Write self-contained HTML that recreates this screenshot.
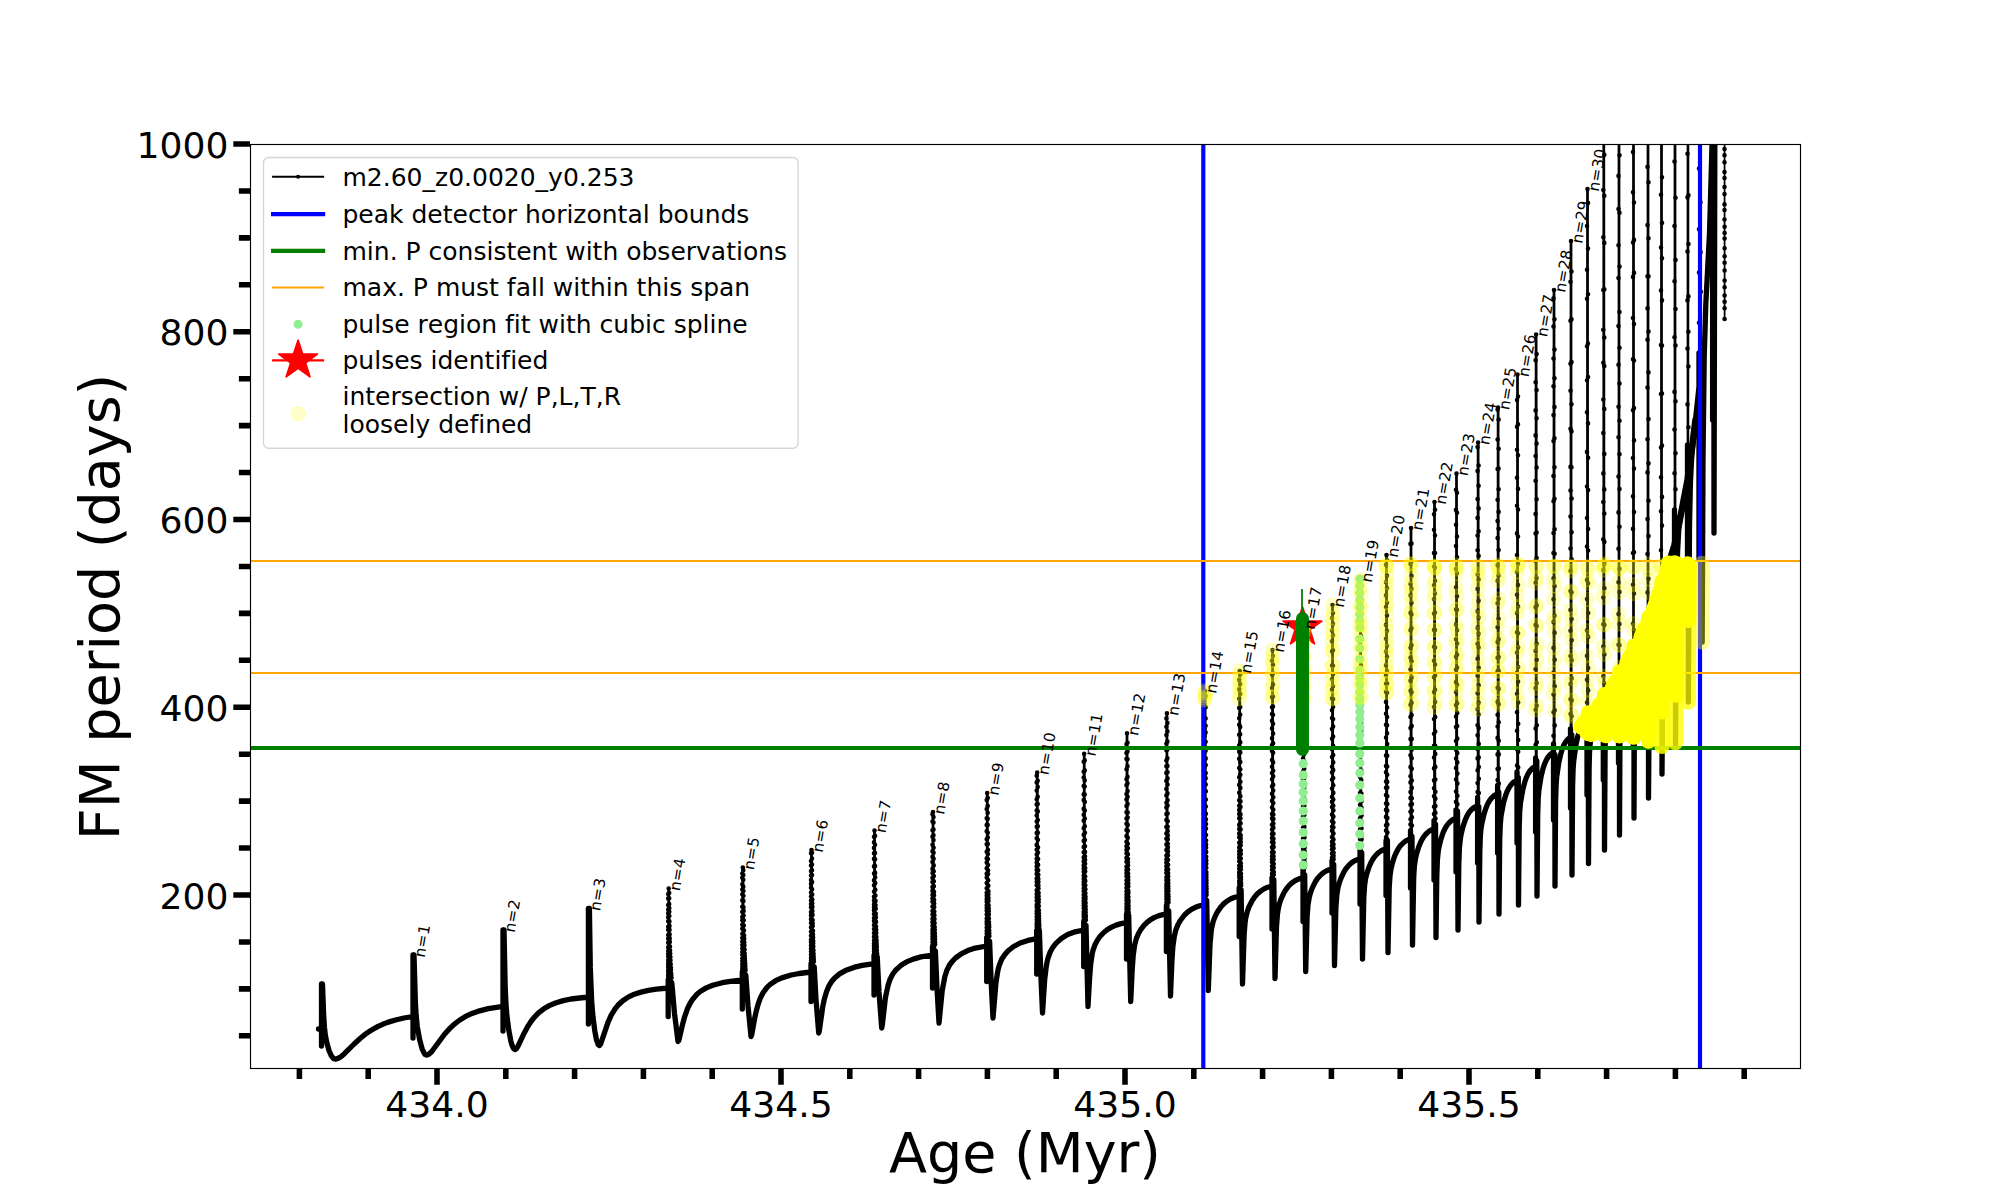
<!DOCTYPE html>
<html lang="en"><head><meta charset="utf-8"><title>FM period vs Age</title>
<style>html,body{margin:0;padding:0;background:#fff;overflow:hidden}svg{display:block}text{font-variant-ligatures:none;font-kerning:none}</style></head>
<body>
<svg width="2000" height="1200" viewBox="0 0 2000 1200">
<rect width="2000" height="1200" fill="#fff"/>
<defs><clipPath id="ax"><rect x="250" y="144" width="1550" height="924"/></clipPath></defs>
<g clip-path="url(#ax)">
<g fill="none" stroke="#000" stroke-linejoin="round" stroke-linecap="round">
<path stroke-width="1.75" d="M318.5 1029L321.5 1029L321.5 1046L321.5 984L322.5 984L323.7 1016.5L324.5 1027.7L325.3 1035L327 1043.5L329.2 1051L331.4 1055.9L332.4 1057.3L333.6 1058.6L335 1059L336.8 1058.8L338.8 1058L340.9 1056.7L344.4 1053.7L354.1 1044L360.4 1038.2L365.7 1033.9L371.6 1030L378.1 1026.4L382.7 1024.3L387.6 1022.4L395.5 1020L403.9 1018L413 1016.5L413 1038L413 955L414 955L415.2 998.3L416 1013.3L416.8 1022.9L418.5 1034.3L420.7 1044.4L422.9 1050.9L423.9 1052.8L425.1 1054.4L426.5 1055L427.4 1054.9L428.8 1054.2L430.4 1052.9L433.3 1049.5L440.6 1039.4L446 1032.5L450.7 1027.5L456 1022.8L461.8 1018.7L468.2 1015.1L472.8 1013.1L480.3 1010.6L491.1 1008.1L503 1006.4L503 1031L503 930L504 930L505 981.8L505.7 999.7L506.7 1013.5L508.2 1026.4L509.9 1036.8L511.8 1044.6L512.7 1046.8L513.8 1048.8L515.3 1049.5L516.2 1048.9L517 1048L518.5 1045.2L524 1033.4L527.2 1027.4L531 1021.5L535.3 1016.1L540.2 1011.5L543.8 1008.8L549.7 1005.4L556.2 1002.7L563.3 1000.6L571 999L579.4 997.9L588.4 997L588.4 1024L588.4 908.5L589.4 908.5L590.3 967.9L591 988.4L591.9 1004.2L593.4 1020.8L595.6 1035.6L596.5 1039.9L597.7 1043.6L598.3 1044.7L599.5 1045.5L600.4 1044.6L601.1 1043L605.3 1029.7L608 1022.3L611.2 1015.2L613.7 1010.9L617.9 1005.3L621.1 1002.1L626.3 998.2L632.2 995.1L638.7 992.7L648.4 990.4L656.4 989.2L668.2 988L668.2 1016.5L668.2 888.5L669.2 888.5L669.6 933.7L670.3 954.4L671.2 972.6L672.3 989.2L673.9 1007.7L675.8 1025L678.1 1041.5L678.5 1041L679.1 1039.4L682.2 1025.9L684.6 1016.8L687.6 1008.4L690 1003.5L692.7 999.2L694.1 997.3L697.2 994L700.6 991.2L706.3 987.9L712.7 985.3L722.3 982.7L730.4 981.3L742.3 980L742.3 1009L742.3 867.5L743.3 867.5L743.7 917.4L744.2 940.3L745 960.3L746 978.7L747.4 999.2L749.4 1021.4L751.1 1036.5L751.8 1034.3L754.8 1017.6L756.4 1010.5L758.2 1004L760.3 998.2L762.7 993.3L764.1 991.1L767 987.4L770.2 984.4L775.6 980.7L781.8 977.9L786.3 976.3L791.2 975L799.1 973.5L811 972L811 1001.5L811 850L812 850L812.3 904L813.5 950.5L815.6 992.6L817 1013.3L818.7 1033L819.3 1031L821.5 1014.7L822.8 1006.3L824.5 998.4L826.5 991.7L828.8 986.2L831.4 981.8L834.4 978.2L836 976.6L839.5 973.9L845.4 970.6L849.7 968.8L854.5 967.2L862.3 965.4L874 963.7L874 995L874 830.5L875 830.5L875.4 894.5L875.9 920.4L876.8 947.8L878.8 988.2L881.7 1028L882.4 1024.4L884.1 1007.5L885.4 997.6L887.1 988.9L888.1 985.2L890.2 978.9L892.8 974L895.6 970.2L897.2 968.5L900.7 965.6L906.5 961.9L913.3 959.1L920.9 956.9L926.5 955.8L932.5 955L932.5 988L932.5 812L933.5 812L933.8 880.4L935.1 941.9L936.8 984.5L939 1023L939.4 1020.6L941 1002.1L942.2 990.7L943.8 980.9L944.8 976.8L946.9 970.2L949.4 965.2L952.3 961.3L955.5 958L961.2 953.8L967.7 950.6L975.2 948.1L980.7 946.9L986.7 946L986.7 981.5L986.7 793L987.7 793L988 865.9L989.3 931.5L990.9 977L993 1018L995.9 983.3L997.5 972.6L998.4 968.3L999.5 964.7L1001.8 959L1004.7 954.7L1007.9 951L1009.7 949.4L1013.6 946.5L1017.9 944L1020.2 943L1027.9 940.4L1036.7 938.7L1036.7 974L1036.7 772.5L1037.7 772.5L1038 850.5L1039.1 920.5L1040.6 969.1L1042.5 1013L1044.7 979.4L1046.2 967L1047 962.2L1048 958.2L1050.2 952L1052.8 947.3L1055.9 943.4L1059.4 940L1061.3 938.5L1065.5 935.8L1067.7 934.6L1075.2 931.8L1083.7 930L1083.7 966.5L1083.7 753.7L1084.7 753.7L1084.9 828.3L1085.4 892.6L1086.5 950.6L1088 1006.5L1090.1 970.6L1090.7 964L1092.2 953.8L1093.1 950L1095.2 944.2L1097.7 939.7L1100.5 935.8L1103.8 932.5L1105.6 930.9L1109.5 928.3L1111.6 927.1L1118.5 924.3L1126.5 922.5L1126.5 959L1126.5 733.3L1127.5 733.3L1127.7 812.5L1128.2 880.6L1129.2 942.2L1130.7 1001.5L1132.2 969.9L1133.2 955.4L1133.9 949.8L1134.6 945.2L1136.4 938.4L1138.5 933.5L1140.9 929.3L1145.3 924L1148.7 920.9L1150.6 919.6L1152.6 918.4L1156.8 916.4L1161.4 914.9L1166.4 913.7L1166.4 951.5L1166.4 713.3L1167.4 713.3L1167.5 796.8L1168.1 868.6L1169.1 933.5L1170.5 996L1171.9 961.3L1172.9 946.4L1173.5 940.8L1174.3 936.3L1175.9 929.7L1177.9 924.7L1180.3 920.5L1184.5 915L1187.7 912L1189.5 910.6L1191.4 909.4L1195.4 907.3L1199.8 905.7L1204.6 904.5L1204.6 944L1204.6 691L1205.6 691L1205.7 779.4L1206.2 855.5L1207 924.3L1208.3 990.5L1209.6 952.9L1210.5 937.8L1211.1 932.2L1211.7 927.8L1213.2 921.4L1215 916.6L1217.2 912.3L1221 906.7L1223.9 903.6L1225.5 902.2L1227.2 901L1230.9 898.8L1234.8 897.2L1239.2 896L1239.2 936.5L1239.2 671L1240.2 671L1240.3 763.4L1240.7 843L1241.4 914.8L1242.5 984L1243.7 943.3L1244.1 934.9L1245.1 922.4L1245.7 918.1L1247.2 911.8L1248.9 907L1251 902.7L1253.3 898.8L1256 895.3L1258.9 892.4L1260.6 891.1L1262.3 889.9L1265.9 888L1272 886L1272 929L1272 650L1273 650L1273.4 830.5L1274.1 905.9L1275 978.5L1276.1 934.9L1277 919.4L1277.5 913.9L1278.7 906.4L1280.2 901.1L1283 894.5L1285.3 890.5L1287.8 887L1290.6 884L1292.1 882.7L1293.7 881.5L1297.2 879.5L1303 877.5L1303 921.5L1303 627L1304 627L1304.4 816.3L1305.7 971.5L1306.8 925.5L1307.6 910L1308 904.8L1309.2 897.5L1310.6 892.4L1313.2 885.8L1315.3 881.8L1317.7 878.2L1321.8 873.9L1323.3 872.7L1326.6 870.8L1332 868.7L1332 913L1332 605L1333 605L1333.3 803.1L1334.5 965.5L1335.2 926.8L1336.3 900.4L1336.8 895.2L1337.9 888.1L1339.3 882.9L1340.9 878.4L1342.8 874.1L1345 870.2L1348.7 865.4L1350.1 864L1353.1 861.7L1356.4 860L1360 858.7L1360 904L1360 580L1361 580L1361.3 788.2L1362.5 959L1363.2 917.4L1364.2 890.6L1364.6 885.5L1365.6 878.5L1366.9 873.4L1368.4 868.7L1370.1 864.4L1372.1 860.4L1375.6 855.5L1379.7 851.8L1382.7 850L1386 848.7L1386 895.5L1386 555L1387 555L1387.2 773.4L1388 952.5L1388.7 908L1389.6 880.8L1390 875.8L1391 868.9L1392.2 863.8L1393.6 859.1L1395.3 854.7L1397.2 850.6L1400.5 845.6L1404.4 841.9L1407.3 840L1410.5 838.7L1410.5 888L1410.5 528L1411.5 528L1411.7 757.1L1412.5 945L1413.1 898L1414 870.7L1414.4 865.8L1415.4 859.1L1416.5 854L1417.9 849.2L1419.5 844.8L1421.3 840.7L1424.5 835.7L1428.2 831.9L1431 830.1L1434 828.7L1434 880L1434 502L1435 502L1435.2 741.3L1436 937.5L1436.6 887.6L1437.4 860.1L1437.8 855.3L1438.7 848.7L1441 838.8L1442.5 834.3L1444.2 830.2L1447.1 825.1L1450.6 821.2L1453.2 819.4L1456 818L1456 872L1456 473.5L1457 473.5L1457.2 724.3L1458 930L1458.6 876.5L1459.4 848.3L1459.7 843.5L1460.6 837L1462.9 826.9L1464.4 822.3L1466 818L1468.9 812.7L1472.3 808.8L1474.8 806.9L1477.6 805.5L1477.6 863L1477.6 442.5L1478.6 442.5L1479 922L1479.5 865.2L1480 843.4L1480.3 836.7L1481 828.4L1482 822.8L1483.7 815.3L1485 810.6L1486.6 806.3L1489.4 800.9L1492.6 796.9L1495 794.9L1497.6 793.5L1497.6 853L1497.6 407.5L1498.6 407.5L1499 914L1499.5 853.5L1500 831.2L1500.3 824.5L1501 816.2L1501.9 810.5L1503.5 802.7L1504.9 797.8L1506.4 793.3L1509 787.7L1512.1 783.5L1514.5 781.5L1517 780L1517 843L1517 374.5L1518 374.5L1518.1 665.9L1518.5 905L1519 841.1L1519.4 818.4L1520.4 803.5L1521.2 797.6L1522.8 789.5L1525.5 779.8L1528 774L1531 769.6L1533.2 767.6L1535.6 766L1535.6 832L1535.6 334.5L1536.6 334.5L1537 896L1537.5 828.6L1537.9 805.6L1538.8 790.7L1539.6 784.7L1541.1 776.4L1543.8 766.3L1546.2 760.3L1549 755.8L1551.2 753.6L1553.5 752L1553.5 820L1553.5 290L1554.5 290L1554.6 617.4L1555 886L1555.4 815.1L1555.8 791.8L1556.7 776.9L1558.9 762.2L1561.4 751.8L1563.6 745.5L1566.3 740.9L1568.3 738.7L1570.5 737L1570.5 808L1570.5 241L1571.5 241L1571.6 589.3L1572 875L1572.4 799.8L1572.8 776.1L1573.7 761.1L1574.8 751.8L1576.3 742.9L1578.8 732.6L1581.2 726.6L1583.9 722.3L1587 719.5L1587 795L1587 189L1588 189L1588.1 559.6L1588.5 863.6L1588.9 783.9L1589.3 759.5L1590.1 744.4L1591.3 734.7L1592.7 725.5L1595.3 714.7L1597.6 708.4L1600.2 704L1603.3 701L1603.3 780L1603.3 130L1604.3 130L1604.5 850L1604.9 764.7L1605.3 739.6L1606 724.2L1607.1 714.1L1608.5 704.3L1610.9 692.9L1613.1 686.3L1615.6 681.6L1618.5 678.5L1618.5 763L1618.5 70L1619.5 70L1619.5 835L1619.9 743.3L1620.2 717.3L1621 701.4L1622 690.7L1623.4 680.4L1625.7 668.3L1627.8 661.3L1630.2 656.3L1633 653L1633 744L1633 10L1634 10L1634 818L1634.3 741.5L1634.7 692.6L1635.5 676.2L1636.5 665L1637.9 654L1640.2 641.2L1642.3 633.8L1644.7 628.5L1647.5 625L1647.5 722L1647.5 -60L1648.5 -60L1648.5 798L1649 719L1649.7 667.2L1650.5 635.8L1651.1 625.6L1651.7 618.7L1652.6 613.5L1653.9 608.5L1661 589L1661 697L1661 -130L1662 -130L1662 774L1662.6 685.6L1663.2 630.5L1664.1 597.7L1664.6 587L1665.3 579.6L1666.2 573.9L1667.5 568.2L1674.5 545L1674.5 665L1674.5 -200L1675.5 -200L1675.5 744L1676 650.5L1676.7 587.3L1677.6 551.2L1678.1 538.9L1678.8 529.2L1680.4 517.6L1687.5 480L1687.5 620L1687.5 -280L1688.5 -280L1688.3 702L1688.8 597.5L1689.5 525.2L1690.4 483L1691.8 454.6L1693 441.4L1695.6 419.5L1699 386.8L1699 560L1699 -360L1700 -360L1700.1 -64.2L1700.5 190.5L1701.2 420.6L1702.2 642L1703 460.6L1704.2 358.1L1704.9 330.4L1705.8 304.1L1709.5 233.5L1712 145.4L1712.6 110L1712.6 420L1712.6 -450L1713.6 -450L1714 533L1714.9 114.4L1716.2 -172.6L1718 -430.6L1723.4 -1063.3L1723.4 -3000L1723.4 -550L1724.4 -550L1724.6 319"/>
<path stroke-width="5.3" d="M318.5 1029L321.5 1029L321.5 1046L321.5 984M322.5 984L323.7 1016.5L324.5 1027.7L325.3 1035L327 1043.5L329.2 1051L331.4 1055.9L333.6 1058.6L335 1059L336.8 1058.8L338.8 1058L340.9 1056.7L344.4 1053.7L354.1 1044L360.4 1038.2L365.7 1033.9L371.6 1030L378.1 1026.4L382.7 1024.3L387.6 1022.4L395.5 1020L403.9 1018L413 1016.5L413 1038L413 955M414 955L415.4 1002.8L416.2 1016.1L417.3 1026.6L419.6 1039.5L422.1 1048.8L424.4 1053.6L425.1 1054.4L426.5 1055L427.4 1054.9L429.3 1053.9L431.8 1051.5L444.5 1034.3L449.1 1029.2L454.1 1024.3L459.8 1020L466 1016.2L470.5 1014.1L477.7 1011.4L488.3 1008.6L503 1006.4L503 1031L503 930M504 930L505.2 987.1L505.9 1003L506.9 1015.6L508.7 1029.5L510.8 1040.8L511.8 1044.6L513.2 1047.9L513.8 1048.8L515.3 1049.5L516.5 1048.5L517.9 1046.3L524 1033.4L527.2 1027.4L531 1021.5L533.8 1017.9L538.5 1012.9L543.8 1008.8L549.7 1005.4L556.2 1002.7L563.3 1000.6L571 999L588.4 997L588.4 1024L588.4 908.5M589.4 908.5L590.3 967.9L591.7 1001.6L593 1017.1L594.8 1030.9L596.5 1039.9L598.3 1044.7L599.5 1045.5L600.7 1043.9L608 1022.3L611.2 1015.2L615.1 1008.9L617.9 1005.3L622.8 1000.7L628.2 997.1L634.3 994.2L641 992.1L648.4 990.4L656.4 989.2L668.2 988L668.2 1016.5L668.2 980M671.8 982.7L674.5 1013.6L678 1041.5L678.5 1041L679.1 1039.4L682.2 1025.9L684.6 1016.8L687.6 1008.4L690 1003.5L692.7 999.2L697.2 994L700.6 991.2L706.3 987.9L712.7 985.3L722.3 982.7L730.4 981.3L742.3 980L742.3 1009L742.3 972M745.8 975.1L748 1005.7L751 1036.5L751.8 1034.3L754.8 1017.6L756.4 1010.5L758.2 1004L760.3 998.2L762.7 993.3L767 987.4L770.2 984.4L775.6 980.7L781.8 977.9L791.2 975L799.1 973.5L811 972L811 1001.5L811 964M814.2 966.6L816 999.6L818.7 1033L819.3 1031L822.8 1006.3L824.5 998.4L826.5 991.7L828.8 986.2L831.4 981.8L834.4 978.2L839.5 973.9L845.4 970.6L854.5 967.2L862.3 965.4L874 963.7L874 995L874 955.7M877.2 956.3L879 992L881.7 1028L882.4 1024.4L885.4 997.6L888.1 985.2L890.2 978.9L892.8 974L895.6 970.2L900.7 965.6L906.5 961.9L913.3 959.1L920.9 956.9L932.5 955L932.5 988L932.5 947M935.4 950.8L937 988.5L939 1023L942.2 990.7L944.8 976.8L946.9 970.2L949.4 965.2L952.3 961.3L955.5 958L961.2 953.8L967.7 950.6L975.2 948.1L986.7 946L986.7 981.5L986.7 938M989.6 941.1L991.1 981.2L993 1018L995.9 983.3L997.5 972.6L998.4 968.3L999.5 964.7L1001.8 959L1004.7 954.7L1007.9 951L1013.6 946.5L1020.2 943L1027.9 940.4L1036.7 938.7L1036.7 974L1036.7 930.7M1039.4 930.8L1040.8 973.7L1042.5 1013L1044.7 979.4L1046.2 967L1047 962.2L1048 958.2L1050.2 952L1052.8 947.3L1055.9 943.4L1061.3 938.5L1067.7 934.6L1075.2 931.8L1083.7 930L1083.7 966.5L1083.7 922M1086 925.3L1088 1006.5L1089.6 978L1090.7 964L1092.2 953.8L1093.1 950L1095.2 944.2L1097.7 939.7L1100.5 935.8L1103.8 932.5L1107.5 929.5L1111.6 927.1L1116.1 925.1L1121.1 923.6L1126.5 922.5L1126.5 959L1126.5 914.5M1128.7 915.4L1130.7 1001.5L1132.2 969.9L1133.2 955.4L1134.6 945.2L1136.4 938.4L1138.5 933.5L1140.9 929.3L1143.8 925.6L1147 922.4L1150.6 919.6L1154.6 917.4L1159 915.6L1166.4 913.7L1166.4 951.5L1166.4 905.7M1168.7 911L1170.5 996L1171.9 961.3L1172.9 946.4L1174.3 936.3L1175.9 929.7L1177.9 924.7L1180.3 920.5L1184.5 915L1187.7 912L1191.4 909.4L1195.4 907.3L1199.8 905.7L1204.6 904.5L1204.6 944L1204.6 896.5M1206.7 900.5L1208.3 990.5L1210 944.7L1211.1 932.2L1211.7 927.8L1213.2 921.4L1215 916.6L1217.2 912.3L1221 906.7L1223.9 903.6L1227.2 901L1230.9 898.8L1234.8 897.2L1239.2 896L1239.2 936.5L1239.2 888M1241.1 889.9L1242.5 984L1244.1 934.9L1245.1 922.4L1245.7 918.1L1247.2 911.8L1248.9 907L1252.1 900.7L1254.6 897L1257.4 893.8L1260.6 891.1L1264 888.9L1267.8 887.2L1272 886L1272 929L1272 878M1273.8 879.7L1275 978.5L1276.5 926.3L1277.5 913.9L1278.1 909.8L1279.4 903.6L1281.1 898.8L1284.1 892.4L1286.5 888.7L1289.2 885.4L1292.1 882.7L1295.4 880.5L1299.1 878.8L1303 877.5L1303 921.5L1303 869.5M1304.7 874.9L1305.7 971.5L1307.1 916.9L1308 904.8L1309.2 897.5L1310.6 892.4L1312.3 887.9L1315.3 881.8L1317.7 878.2L1320.4 875.2L1323.3 872.7L1326.6 870.8L1332 868.7L1332 913L1332 860.7M1333.7 864.4L1334.5 965.5L1335.9 907.3L1336.8 895.2L1337.9 888.1L1339.3 882.9L1340.9 878.4L1343.8 872.1L1346.1 868.5L1348.7 865.4L1351.6 862.8L1354.7 860.8L1360 858.7L1360 904L1360 850.7M1361.7 852.7L1362.5 959L1363.8 897.5L1364.6 885.5L1365.6 878.5L1366.9 873.4L1369.2 866.5L1371.1 862.3L1373.2 858.6L1375.6 855.5L1378.2 852.9L1381.1 850.8L1386 848.7L1386 895.5L1386 840.7M1387.4 841.1L1388 952.5L1389.2 887.7L1390 875.8L1391 868.9L1392.2 863.8L1394.4 856.8L1396.2 852.6L1398.3 848.8L1400.5 845.6L1403.1 843L1405.8 840.9L1410.5 838.7L1410.5 888L1410.5 830.7M1412 836.4L1412.5 945L1413.7 877.4L1414.4 865.8L1415.4 859.1L1416.5 854L1418.7 847L1420.4 842.7L1422.3 838.9L1424.5 835.7L1426.9 833L1429.6 830.9L1434 828.7L1434 880L1434 820.7M1435.5 824.1L1436 937.5L1436.8 875.9L1437.4 860.1L1438.2 851.6L1439.2 846.1L1441 838.8L1443.3 832.2L1445.1 828.3L1447.1 825.1L1449.4 822.4L1451.9 820.2L1456 818L1456 872L1456 810M1457.5 811.2L1458 930L1458.8 864.3L1459.4 848.3L1460.2 839.9L1461.1 834.3L1462.9 826.9L1465.2 820.1L1466.9 816.1L1468.9 812.7L1471.1 810L1473.5 807.8L1477.6 805.5L1477.6 863L1477.6 797.5M1478.8 806.7L1479 922L1479.8 852.7L1480.3 836.7L1481 828.4L1482 822.8L1483.7 815.3L1485.8 808.4L1487.5 804.3L1489.4 800.9L1491.5 798.1L1493.8 795.8L1497.6 793.5L1497.6 853L1497.6 785.5M1498.8 792.2L1499 914L1499.7 840.7L1500.3 824.5L1501 816.2L1503.5 802.7L1505.6 795.5L1507.2 791.3L1509 787.7L1511.1 784.8L1513.3 782.4L1517 780L1517 843L1517 772M1518.3 777.4L1518.5 905L1519.2 828L1519.7 811.7L1520.4 803.5L1522.8 789.5L1524.8 782L1526.3 777.7L1528 774L1529.9 770.9L1532.1 768.5L1535.6 766L1535.6 832L1535.6 758M1536.8 760.9L1537 896L1537.7 815.3L1538.2 798.9L1538.8 790.7L1541.1 776.4L1543 768.6L1544.5 764.1L1546.2 760.3L1548 757.1L1550.1 754.6L1553.5 752L1553.5 820L1553.5 744M1554.8 754.3L1555 886L1555.6 801.5L1556.1 785.2L1556.7 776.9L1558.9 762.2L1560.7 754.2L1562.1 749.5L1563.6 745.5L1565.4 742.3L1567.3 739.7L1570.5 737L1570.5 808L1570.5 729M1571.8 734.9L1572 875L1572.6 785.9L1573.1 769.4L1573.7 761.1L1575.8 745.8L1577.5 737.4L1578.8 732.6L1580.4 728.4L1582 725L1583.9 722.3L1587 719.5L1587 795L1587 711.5M1588.3 714.6L1588.5 863.6L1589.1 769.5L1589.5 752.8L1590.1 744.4L1592.2 728.5L1593.9 719.7L1595.3 714.7L1596.7 710.3L1598.4 706.8L1600.2 704L1603.3 701L1603.3 780L1603.3 693M1604.4 704.9L1604.5 850L1605.1 749.9L1605.5 732.8L1606 724.2L1608 707.5L1609.6 698.3L1610.9 692.9L1612.3 688.3L1613.9 684.6L1615.6 681.6L1618.5 678.5L1618.5 763L1618.5 670.5M1619.5 680.8L1619.5 835L1620 727.9L1620.5 710.3L1621 701.4L1622.9 683.7L1625.7 668.3L1627 663.4L1628.5 659.4L1630.2 656.3L1633 653L1633 744L1633 645M1634 655.1L1634 818L1634.4 719.6L1634.7 692.6L1635.2 680.4L1637.4 657.6L1640.2 641.2L1641.5 636L1643 631.8L1644.7 628.5L1647.5 625L1647.5 722L1647.5 617M1648.5 625.1L1648.5 798L1649.4 681.2L1650.1 648.4L1650.9 629L1651.7 618.7L1653.1 611.2L1655 605.2L1661 589L1661 697L1661 581M1662 591.8L1662 774L1663.2 630.5L1664.1 597.7L1665.3 579.6L1666.2 573.9L1667.5 568.2L1674.5 545L1674.5 665L1674.5 510M1675.5 516.9L1675.5 744L1676.7 587.3L1677.6 551.2L1678.8 529.2L1680.4 517.6L1687.5 480L1687.5 620L1687.5 445M1688.4 446.4L1688.3 702L1689.5 525.2L1690.4 483L1691.8 454.6L1699 386.8L1699 560L1699 353M1701 361.1L1702.2 642L1703 460.6L1704.2 358.1L1705.8 304.1L1709.5 233.5L1712 145.4L1712.6 110L1712.6 420L1712.6 -1890M1713.6 -450L1714 533L1714.9 114.4L1716.2 -172.6L1718 -430.6L1723.4 -1063.3L1723.4 -3008"/>
<path stroke-width="6.5" d="M1671 556L1674.5 545L1681 514L1687.5 480L1691 456L1695.5 420"/>
<path stroke-width="4.6" d="M322 984h0M413.5 955h0M503.5 930h0M588.9 908.5h0M668.2 978.4h0M668.2 976.2h0M668.2 974.4h0M668.2 971.9h0M668.2 970h0M668.2 967.3h0M668.2 965.3h0M668.2 963.1h0M668.2 960.2h0M668.2 956.5h0M668.2 953.9h0M668.2 951.1h0M668.2 947.4h0M668.2 942.8h0M668.2 938.8h0M668.2 935.1h0M668.2 929.8h0M668.2 926.7h0M668.2 921.2h0M668.2 917.2h0M668.2 913.4h0M668.2 909.5h0M668.2 905h0M668.2 898.6h0M668.2 894.1h0M668.7 888.5h0M669.2 893h0M669.2 898.3h0M669.2 904.1h0M669.3 908h0M669.3 911.8h0M669.3 916h0M669.4 921.4h0M669.5 925.9h0M669.5 929.9h0M669.6 934.4h0M669.7 938.4h0M669.8 941.9h0M670 946.5h0M670.1 950.6h0M670.2 953.5h0M670.4 957h0M670.5 960.3h0M670.7 964.1h0M670.9 967.5h0M671 970h0M671.2 973.5h0M671.3 975.5h0M671.5 977.8h0M742.3 971.1h0M742.3 968.7h0M742.3 966.9h0M742.3 964.2h0M742.3 961.1h0M742.3 958.2h0M742.3 954.7h0M742.3 952h0M742.3 948.6h0M742.3 945.1h0M742.3 941.6h0M742.3 938.1h0M742.3 933.7h0M742.3 928.8h0M742.3 924.8h0M742.3 920.2h0M742.3 917h0M742.3 911.9h0M742.3 906.8h0M742.3 900.4h0M742.3 894.2h0M742.3 889.5h0M742.3 884.2h0M742.3 877.8h0M742.3 873.5h0M742.8 867.5h0M743.3 870.2h0M743.3 875.1h0M743.3 879.7h0M743.3 886.7h0M743.4 891.1h0M743.4 895.8h0M743.4 900.9h0M743.5 907.2h0M743.6 910.9h0M743.6 915.5h0M743.7 920.2h0M743.8 925.6h0M744 930.6h0M744.1 935.4h0M744.2 938.7h0M744.3 942.2h0M744.4 945.4h0M744.6 949.5h0M744.7 953.6h0M744.8 956.1h0M744.9 958.4h0M745 960.8h0M745.2 963.2h0M745.3 965.8h0M745.4 968.5h0M745.5 970.6h0M811 962.6h0M811 960.4h0M811 957.9h0M811 954.6h0M811 951.6h0M811 948.8h0M811 945.6h0M811 942.3h0M811 939.9h0M811 935.8h0M811 931.8h0M811 927.4h0M811 922.9h0M811 919.2h0M811 915.4h0M811 912.1h0M811 907.4h0M811 904h0M811 900.5h0M811 896.5h0M811 892.5h0M811 887.8h0M811 883.9h0M811 880h0M811 875.5h0M811 871.1h0M811 865.5h0M811 861h0M811 853.2h0M811.5 850h0M812 852.8h0M812 858.5h0M812 864.5h0M812 870.3h0M812 875h0M812.1 882.1h0M812.1 889.3h0M812.2 894.5h0M812.3 899.6h0M812.3 903.3h0M812.4 906.9h0M812.4 911h0M812.5 914.9h0M812.6 920h0M812.7 923.2h0M812.7 926.1h0M812.9 930.9h0M813 934.6h0M813.1 937.4h0M813.2 940.9h0M813.2 943.2h0M813.3 946.4h0M813.5 950.3h0M813.6 953.8h0M813.7 956.8h0M813.8 959.1h0M813.9 961.4h0M874 953.8h0M874 951.3h0M874 948.4h0M874 946h0M874 943.8h0M874 940.5h0M874 936.7h0M874 933h0M874 929.1h0M874 925.1h0M874 921.1h0M874 918h0M874 914.1h0M874 910.4h0M874 907.5h0M874 904.4h0M874 900.6h0M874 896.8h0M874 891.6h0M874 885.3h0M874 880.4h0M874 873.6h0M874 866.4h0M874 858.9h0M874 853.2h0M874 847.9h0M874 842.3h0M874 836.7h0M874.5 830.5h0M875 835.9h0M875 844.7h0M875 852.9h0M875.1 859.2h0M875.1 866h0M875.1 872.9h0M875.2 877.2h0M875.2 883.1h0M875.3 889.7h0M875.4 895.5h0M875.5 900.9h0M875.6 905.3h0M875.7 908.8h0M875.8 913.8h0M875.9 917.4h0M876 921.9h0M876.1 926.6h0M876.2 929.9h0M876.3 933h0M876.4 937.1h0M876.6 940.6h0M876.6 943h0M876.7 945.2h0M876.8 947.3h0M876.9 950.6h0M877.1 953.6h0M932.5 945h0M932.5 941.9h0M932.5 939.1h0M932.5 936.7h0M932.5 933.9h0M932.5 931.7h0M932.5 929.6h0M932.5 925.7h0M932.5 922.3h0M932.5 918.9h0M932.5 914.6h0M932.5 911.1h0M932.5 906.5h0M932.5 901.8h0M932.5 898.4h0M932.5 894.8h0M932.5 890.9h0M932.5 887h0M932.5 882.1h0M932.5 877.9h0M932.5 873h0M932.5 868.9h0M932.5 862.1h0M932.5 856.9h0M932.5 851.2h0M932.5 844.7h0M932.5 836.7h0M932.5 830.3h0M932.5 821.6h0M932.5 814.2h0M933 812h0M933.5 817.1h0M933.5 822.5h0M933.5 829.5h0M933.5 835.2h0M933.5 840h0M933.6 847.8h0M933.6 852.8h0M933.6 858.8h0M933.7 865.4h0M933.7 871.2h0M933.8 876h0M933.8 881.2h0M933.9 886.3h0M934 891.9h0M934 895.4h0M934.1 899.9h0M934.2 903.5h0M934.2 907h0M934.3 911.5h0M934.4 915.3h0M934.5 919h0M934.6 923h0M934.7 927.1h0M934.8 930.1h0M934.9 933.3h0M935 936.2h0M935 938.9h0M935.1 941.9h0M935.2 944.3h0M986.7 936.5h0M986.7 933.5h0M986.7 930.7h0M986.7 927.5h0M986.7 924.1h0M986.7 921.6h0M986.7 918.5h0M986.7 914.6h0M986.7 910.7h0M986.7 908h0M986.7 905.3h0M986.7 901.8h0M986.7 899h0M986.7 895.7h0M986.7 892.7h0M986.7 888.2h0M986.7 883.1h0M986.7 877.5h0M986.7 873.8h0M986.7 868.2h0M986.7 862.6h0M986.7 858.4h0M986.7 851.7h0M986.7 844.3h0M986.7 839.2h0M986.7 831.3h0M986.7 825.1h0M986.7 818.3h0M986.7 809.1h0M986.7 800.1h0M987.2 793h0M987.7 797.9h0M987.7 805.9h0M987.7 812.8h0M987.7 818.7h0M987.7 825.1h0M987.8 832.8h0M987.8 837.5h0M987.8 844h0M987.9 849.9h0M987.9 854h0M987.9 859.1h0M988 865h0M988.1 870.3h0M988.1 874h0M988.2 880.3h0M988.3 885.7h0M988.4 891.4h0M988.4 894.6h0M988.5 898.1h0M988.5 900.9h0M988.6 905.3h0M988.7 908.5h0M988.8 911.2h0M988.8 914.4h0M988.9 918.5h0M989 922.2h0M989.1 924.7h0M989.2 927h0M989.2 930.4h0M989.3 933.2h0M989.4 936h0M1036.7 929.9h0M1036.7 927.3h0M1036.7 924.9h0M1036.7 923.1h0M1036.7 919.7h0M1036.7 916.8h0M1036.7 913.4h0M1036.7 911.1h0M1036.7 907.3h0M1036.7 904.9h0M1036.7 900.8h0M1036.7 897.4h0M1036.7 894.1h0M1036.7 890.2h0M1036.7 885.3h0M1036.7 881.7h0M1036.7 878.4h0M1036.7 873.9h0M1036.7 870h0M1036.7 866.4h0M1036.7 862.5h0M1036.7 858.8h0M1036.7 854.5h0M1036.7 849.8h0M1036.7 844.9h0M1036.7 838.2h0M1036.7 833h0M1036.7 826.7h0M1036.7 821.5h0M1036.7 815.4h0M1036.7 810.5h0M1036.7 804.4h0M1036.7 799.2h0M1036.7 790.6h0M1036.7 782.4h0M1036.7 775.7h0M1037.2 772.5h0M1037.7 780.8h0M1037.7 787.1h0M1037.7 796.7h0M1037.7 804.1h0M1037.8 811.4h0M1037.8 820h0M1037.8 826.3h0M1037.9 832.8h0M1037.9 839.7h0M1038 847.4h0M1038 852.5h0M1038.1 859.1h0M1038.1 864.9h0M1038.2 870.3h0M1038.3 874.7h0M1038.3 878.9h0M1038.4 882.1h0M1038.4 885.4h0M1038.5 888.5h0M1038.6 893.1h0M1038.6 896.3h0M1038.7 899.3h0M1038.7 902h0M1038.8 906.1h0M1038.9 910.2h0M1039 913.6h0M1039 916.2h0M1039.1 918.7h0M1039.1 921.1h0M1039.2 923.8h0M1039.3 925.8h0M1039.3 928.3h0M1083.7 919.7h0M1083.7 916.6h0M1083.7 914h0M1083.7 911.8h0M1083.7 908.3h0M1083.7 905.8h0M1083.7 903.1h0M1083.7 900.9h0M1083.7 898h0M1083.7 894.7h0M1083.7 891.3h0M1083.7 888.4h0M1083.7 884.7h0M1083.7 882.1h0M1083.7 878.7h0M1083.7 875.6h0M1083.7 871.7h0M1083.7 868.6h0M1083.7 865.4h0M1083.7 861.4h0M1083.7 857.4h0M1083.7 852.2h0M1083.7 847h0M1083.7 840.9h0M1083.7 834.8h0M1083.7 828.2h0M1083.7 820.8h0M1083.7 814.8h0M1083.7 808.9h0M1083.7 800.1h0M1083.7 794.4h0M1083.7 786h0M1083.7 777.6h0M1083.7 771.7h0M1083.7 761.7h0M1084.2 753.7h0M1084.7 760.4h0M1084.7 770.4h0M1084.7 780.4h0M1084.7 786.6h0M1084.7 794.5h0M1084.8 801.9h0M1084.8 810.5h0M1084.8 818.5h0M1084.8 826.2h0M1084.9 832.7h0M1084.9 840h0M1085 846.2h0M1085 852.1h0M1085 856.4h0M1085.1 860h0M1085.1 863.7h0M1085.2 868h0M1085.2 871.4h0M1085.2 876.6h0M1085.3 880.9h0M1085.3 885.2h0M1085.4 889.3h0M1085.4 893.3h0M1085.5 896.7h0M1085.5 899.1h0M1085.6 902.9h0M1085.6 906.4h0M1085.7 909.4h0M1085.7 912.3h0M1085.8 915.2h0M1085.8 917.1h0M1085.9 920h0M1126.5 913.7h0M1126.5 911.7h0M1126.5 908.9h0M1126.5 906.8h0M1126.5 903.8h0M1126.5 900.3h0M1126.5 897.4h0M1126.5 894.6h0M1126.5 891.5h0M1126.5 887.9h0M1126.5 884h0M1126.5 880.2h0M1126.5 876.2h0M1126.5 873.3h0M1126.5 870.2h0M1126.5 866.7h0M1126.5 861.8h0M1126.5 857.9h0M1126.5 853.2h0M1126.5 849.8h0M1126.5 846.2h0M1126.5 841.8h0M1126.5 836.1h0M1126.5 830h0M1126.5 823.7h0M1126.5 818.5h0M1126.5 812.2h0M1126.5 806h0M1126.5 799.4h0M1126.5 794.1h0M1126.5 785.3h0M1126.5 779.2h0M1126.5 769.2h0M1126.5 758.9h0M1126.5 752.9h0M1126.5 744.3h0M1127 733.3h0M1127.5 742.7h0M1127.5 751.6h0M1127.5 759.2h0M1127.5 766.2h0M1127.5 776.7h0M1127.5 783.2h0M1127.6 791.1h0M1127.6 796.8h0M1127.6 803.9h0M1127.7 812.5h0M1127.7 817.5h0M1127.7 824.9h0M1127.8 830.8h0M1127.8 837.8h0M1127.8 843.8h0M1127.9 848.2h0M1127.9 854.3h0M1128 859h0M1128 862.3h0M1128 865.4h0M1128.1 869.6h0M1128.1 873.6h0M1128.2 877.1h0M1128.2 880.1h0M1128.3 883.4h0M1128.3 886.6h0M1128.3 890.7h0M1128.4 893h0M1128.4 896.7h0M1128.5 900.3h0M1128.5 902.6h0M1128.6 906.1h0M1128.6 909.1h0M1128.7 912.2h0M1166.4 904.4h0M1166.4 902.2h0M1166.4 899h0M1166.4 896.3h0M1166.4 893.8h0M1166.4 891.1h0M1166.4 888.6h0M1166.4 886.4h0M1166.4 884.1h0M1166.4 880.2h0M1166.4 877.3h0M1166.4 873h0M1166.4 869.9h0M1166.4 866.6h0M1166.4 862.7h0M1166.4 859.5h0M1166.4 855.6h0M1166.4 850.1h0M1166.4 844.5h0M1166.4 838.8h0M1166.4 833.5h0M1166.4 827h0M1166.4 820h0M1166.4 814.1h0M1166.4 807.4h0M1166.4 802.8h0M1166.4 795.5h0M1166.4 788.9h0M1166.4 780.9h0M1166.4 772.9h0M1166.4 766.3h0M1166.4 760.5h0M1166.4 750.3h0M1166.4 743.7h0M1166.4 735h0M1166.4 726.7h0M1166.4 718.4h0M1166.9 713.3h0M1167.4 723.1h0M1167.4 731.4h0M1167.4 741.5h0M1167.4 749.4h0M1167.4 758.2h0M1167.4 765.9h0M1167.5 772.3h0M1167.5 778.4h0M1167.5 784.5h0M1167.5 793.4h0M1167.6 800.2h0M1167.6 805.6h0M1167.6 813.5h0M1167.7 821.3h0M1167.7 826.8h0M1167.7 831.1h0M1167.8 835.4h0M1167.8 839.3h0M1167.8 843.8h0M1167.9 847.4h0M1167.9 851.4h0M1168 855.2h0M1168 859.7h0M1168.1 864.8h0M1168.1 869.4h0M1168.1 873h0M1168.2 876.4h0M1168.2 880h0M1168.3 883.1h0M1168.3 886h0M1168.3 888.3h0M1168.4 890.9h0M1168.4 894.6h0M1168.5 896.7h0M1168.5 899.4h0M1168.5 902.2h0M1204.6 895.4h0M1204.6 893.3h0M1204.6 891.2h0M1204.6 888.7h0M1204.6 886.1h0M1204.6 882.6h0M1204.6 879h0M1204.6 875.2h0M1204.6 872.9h0M1204.6 870.5h0M1204.6 866.6h0M1204.6 862.2h0M1204.6 858.5h0M1204.6 854.4h0M1204.6 851.5h0M1204.6 847.6h0M1204.6 842.2h0M1204.6 836.7h0M1204.6 830.9h0M1204.6 824.5h0M1204.6 820h0M1204.6 815.8h0M1204.6 811.4h0M1204.6 805.5h0M1204.6 798.8h0M1204.6 790.8h0M1204.6 783.4h0M1204.6 775.8h0M1204.6 767.5h0M1204.6 760.1h0M1204.6 752h0M1204.6 746.1h0M1204.6 736.3h0M1204.6 728.9h0M1204.6 717.5h0M1204.6 707.1h0M1204.6 698.3h0M1205.1 691h0M1205.6 696.1h0M1205.6 707.3h0M1205.6 718.5h0M1205.6 725.8h0M1205.6 732.6h0M1205.6 741.7h0M1205.6 750.7h0M1205.7 758.4h0M1205.7 765h0M1205.7 773.1h0M1205.7 778.2h0M1205.7 784.5h0M1205.8 791.2h0M1205.8 799.6h0M1205.8 806.5h0M1205.9 813.8h0M1205.9 819.4h0M1206 824h0M1206 828.5h0M1206 835h0M1206.1 840.5h0M1206.1 844.6h0M1206.1 847.8h0M1206.2 852.1h0M1206.2 856.7h0M1206.3 860.5h0M1206.3 863.8h0M1206.3 867.8h0M1206.4 872.3h0M1206.4 875.1h0M1206.4 877.4h0M1206.5 880.3h0M1206.5 883.2h0M1206.5 886.4h0M1206.6 888.7h0M1206.6 891.9h0M1206.6 894.8h0M1239.2 886.8h0M1239.2 883.5h0M1239.2 881h0M1239.2 877.6h0M1239.2 875h0M1239.2 872.4h0M1239.2 868.7h0M1239.2 865.7h0M1239.2 861.3h0M1239.2 857.6h0M1239.2 854.5h0M1239.2 851.3h0M1239.2 847.4h0M1239.2 842.8h0M1239.2 837.2h0M1239.2 833.5h0M1239.2 829h0M1239.2 824.9h0M1239.2 818.3h0M1239.2 814.1h0M1239.2 810.1h0M1239.2 805.8h0M1239.2 800.3h0M1239.2 792.8h0M1239.2 784.9h0M1239.2 777.2h0M1239.2 768.1h0M1239.2 758.8h0M1239.2 751.8h0M1239.2 745.3h0M1239.2 734.8h0M1239.2 724.8h0M1239.2 718.2h0M1239.2 707.9h0M1239.2 698.8h0M1239.2 689.4h0M1239.2 679.9h0M1239.7 671h0M1240.2 674.4h0M1240.2 684.1h0M1240.2 693.9h0M1240.2 707.1h0M1240.2 714.7h0M1240.2 726.9h0M1240.2 734.3h0M1240.3 742.3h0M1240.3 752.4h0M1240.3 762h0M1240.3 769.3h0M1240.3 774.7h0M1240.4 781.7h0M1240.4 788h0M1240.4 796.3h0M1240.5 801.4h0M1240.5 806.9h0M1240.5 814.2h0M1240.5 818.2h0M1240.6 823.3h0M1240.6 829.4h0M1240.7 835.2h0M1240.7 838.6h0M1240.7 841.9h0M1240.7 845.2h0M1240.8 850.6h0M1240.8 854.1h0M1240.8 858.6h0M1240.9 863.3h0M1240.9 866.5h0M1240.9 869.5h0M1241 873.8h0M1241 877.2h0M1241 879.8h0M1241.1 883.1h0M1241.1 885.6h0M1272 877.1h0M1272 873.7h0M1272 869.8h0M1272 866.2h0M1272 861.9h0M1272 859.3h0M1272 856.2h0M1272 852.4h0M1272 847.4h0M1272 842.1h0M1272 838h0M1272 834.1h0M1272 829.6h0M1272 824.7h0M1272 818.4h0M1272 814h0M1272 807.5h0M1272 800.9h0M1272 793.7h0M1272 786.4h0M1272 779.3h0M1272 773.1h0M1272 766.8h0M1272 760h0M1272 751h0M1272 745h0M1272 738.3h0M1272 728.4h0M1272 720.8h0M1272 714h0M1272 707.2h0M1272 697.1h0M1272 688h0M1272 674.4h0M1272 660.7h0M1272.5 650h0M1273 655.9h0M1273 664.7h0M1273 673.4h0M1273 684.6h0M1273 696.6h0M1273 706.5h0M1273 714.7h0M1273 723.7h0M1273.1 733.5h0M1273.1 743.2h0M1273.1 752.7h0M1273.1 762.4h0M1273.2 770.7h0M1273.2 776.3h0M1273.2 784.7h0M1273.2 790.6h0M1273.3 797.3h0M1273.3 803h0M1273.3 809.8h0M1273.4 814.5h0M1273.4 819.1h0M1273.4 823.6h0M1273.4 827.7h0M1273.5 833.8h0M1273.5 838.7h0M1273.5 842.8h0M1273.6 846.9h0M1273.6 852.3h0M1273.6 856.3h0M1273.6 859.5h0M1273.7 863.9h0M1273.7 867.7h0M1273.8 872.1h0M1273.8 874.5h0M1303 866.5h0M1303 862.2h0M1303 857.5h0M1303 854.7h0M1303 851.2h0M1303 848h0M1303 844.5h0M1303 838.8h0M1303 833.9h0M1303 827.7h0M1303 823h0M1303 816.5h0M1303 811.2h0M1303 806.2h0M1303 799.3h0M1303 791.3h0M1303 786.3h0M1303 779.2h0M1303 771.6h0M1303 765.5h0M1303 758.5h0M1303 752.3h0M1303 745.6h0M1303 738.5h0M1303 729.3h0M1303 719.4h0M1303 711.6h0M1303 704.7h0M1303 695.7h0M1303 684.2h0M1303 675.4h0M1303 665.5h0M1303 656h0M1303 641.8h0M1303 628.9h0M1303.5 627h0M1304 631.9h0M1304 644h0M1304 656.8h0M1304 669.8h0M1304 678.4h0M1304 687.3h0M1304 699.2h0M1304 708.9h0M1304.1 717.5h0M1304.1 725.9h0M1304.1 737.6h0M1304.1 745.4h0M1304.1 754.1h0M1304.2 761.5h0M1304.2 768.8h0M1304.2 777.9h0M1304.3 787.2h0M1304.3 793.3h0M1304.3 798.6h0M1304.3 805.8h0M1304.4 810.7h0M1304.4 814.8h0M1304.4 821.8h0M1304.4 826.9h0M1304.5 833h0M1304.5 837.6h0M1304.5 843.4h0M1304.6 847.8h0M1304.6 851.2h0M1304.6 854.2h0M1304.6 858.4h0M1304.7 862.6h0M1304.7 867.2h0M1332 857.7h0M1332 853.8h0M1332 849.5h0M1332 845.9h0M1332 841.9h0M1332 837h0M1332 830.7h0M1332 826.7h0M1332 821.3h0M1332 814.6h0M1332 807h0M1332 801.9h0M1332 796.9h0M1332 788.5h0M1332 779.6h0M1332 772.4h0M1332 766.8h0M1332 757h0M1332 749.3h0M1332 738.7h0M1332 729.1h0M1332 718h0M1332 710.2h0M1332 698.4h0M1332 689.6h0M1332 679.3h0M1332 665.6h0M1332 651.4h0M1332 641.3h0M1332 630.6h0M1332 618.1h0M1332.5 605h0M1333 613.1h0M1333 623.9h0M1333 635.4h0M1333 650.3h0M1333 665.7h0M1333 674.3h0M1333 686.3h0M1333.1 699h0M1333.1 706.7h0M1333.1 719h0M1333.1 726.5h0M1333.1 736.5h0M1333.1 745.8h0M1333.2 755.1h0M1333.2 762.4h0M1333.2 770.1h0M1333.2 778.1h0M1333.3 785.2h0M1333.3 792.9h0M1333.3 799.5h0M1333.3 805.8h0M1333.4 810.3h0M1333.4 816.8h0M1333.4 822.6h0M1333.4 827.3h0M1333.5 833.5h0M1333.5 839.6h0M1333.5 844.4h0M1333.6 848.2h0M1333.6 852.7h0M1333.6 856h0M1333.6 859.3h0M1360 848.9h0M1360 844.2h0M1360 839.1h0M1360 835.2h0M1360 829.3h0M1360 825h0M1360 818.4h0M1360 811.2h0M1360 804.7h0M1360 799.9h0M1360 793h0M1360 786.3h0M1360 776.9h0M1360 770.8h0M1360 761.1h0M1360 750.1h0M1360 740h0M1360 729h0M1360 721.1h0M1360 708.2h0M1360 697.7h0M1360 683.7h0M1360 669.3h0M1360 659.7h0M1360 645h0M1360 628.6h0M1360 618.4h0M1360 605.6h0M1360 588.7h0M1360.5 580h0M1361 594.5h0M1361 607.6h0M1361 624.9h0M1361 635.8h0M1361 649.3h0M1361 665.4h0M1361 675.5h0M1361.1 685.7h0M1361.1 697.2h0M1361.1 707h0M1361.1 714.6h0M1361.1 722.9h0M1361.2 730.8h0M1361.2 743h0M1361.2 753.1h0M1361.2 764h0M1361.3 770.6h0M1361.3 780h0M1361.3 785.9h0M1361.4 793.5h0M1361.4 801.2h0M1361.4 807.5h0M1361.5 815.5h0M1361.5 821.9h0M1361.5 828.2h0M1361.6 835.3h0M1361.6 839.4h0M1361.6 846.3h0M1386 837.4h0M1386 830.5h0M1386 825.2h0M1386 816.9h0M1386 809.9h0M1386 803.5h0M1386 795.1h0M1386 787.8h0M1386 781.5h0M1386 772.2h0M1386 766h0M1386 755.6h0M1386 747.8h0M1386 737.5h0M1386 724.8h0M1386 713.8h0M1386 701.9h0M1386 691.9h0M1386 683.7h0M1386 675h0M1386 665.3h0M1386 651.6h0M1386 638.8h0M1386 624.9h0M1386 607.1h0M1386 595.4h0M1386 582.3h0M1386 564.8h0M1386.5 555h0M1387 560.2h0M1387 575.7h0M1387 588.2h0M1387 602.7h0M1387 615.4h0M1387 630.9h0M1387 645.8h0M1387 656.9h0M1387 671h0M1387.1 683.4h0M1387.1 692.8h0M1387.1 707.5h0M1387.1 716.9h0M1387.1 725.3h0M1387.1 733.2h0M1387.2 744.1h0M1387.2 755.8h0M1387.2 766.5h0M1387.2 774.7h0M1387.2 781.9h0M1387.3 787.6h0M1387.3 796.2h0M1387.3 804h0M1387.3 810.6h0M1387.4 818.1h0M1387.4 824.6h0M1387.4 832.6h0M1387.4 839.6h0M1410.5 824.4h0M1410.5 819.2h0M1410.5 811.8h0M1410.5 804.7h0M1410.5 798.1h0M1410.5 792.1h0M1410.5 782.4h0M1410.5 776.2h0M1410.5 767h0M1410.5 755.2h0M1410.5 747.4h0M1410.5 739.1h0M1410.5 728h0M1410.5 717h0M1410.5 704.7h0M1410.5 690.7h0M1410.5 680.7h0M1410.5 669.4h0M1410.5 657.7h0M1410.5 647.7h0M1410.5 630.3h0M1410.5 612.9h0M1410.5 595.4h0M1410.5 584h0M1410.5 563.9h0M1410.5 543.9h0M1411 528h0M1411.5 543.5h0M1411.5 561.3h0M1411.5 575.9h0M1411.5 588.9h0M1411.5 602.7h0M1411.5 614.3h0M1411.5 628.2h0M1411.5 645.3h0M1411.6 661.2h0M1411.6 677.6h0M1411.6 692.2h0M1411.6 702.8h0M1411.6 715.1h0M1411.7 726.1h0M1411.7 738.9h0M1411.7 749.6h0M1411.7 758.2h0M1411.8 768.7h0M1411.8 780.6h0M1411.8 787.9h0M1411.8 798.3h0M1411.9 804.1h0M1411.9 810.8h0M1411.9 817.2h0M1411.9 825.6h0M1434 814.1h0M1434 806.7h0M1434 796.2h0M1434 788.2h0M1434 780.4h0M1434 768.4h0M1434 757.5h0M1434 745.8h0M1434 733.7h0M1434 719h0M1434 707.1h0M1434 692h0M1434 677.3h0M1434 660.7h0M1434 646.8h0M1434 629.9h0M1434 613.6h0M1434 599.2h0M1434 585.2h0M1434 566.5h0M1434 553h0M1434 529.7h0M1434 514.2h0M1434.5 502h0M1435 509.8h0M1435 535.5h0M1435 553h0M1435 567.7h0M1435 580.7h0M1435 593.5h0M1435 612.5h0M1435 630.1h0M1435.1 647.6h0M1435.1 664.6h0M1435.1 675.2h0M1435.1 689.7h0M1435.1 701.9h0M1435.2 717h0M1435.2 731.5h0M1435.2 745.8h0M1435.3 753.9h0M1435.3 766.9h0M1435.3 779.6h0M1435.4 791.8h0M1435.4 798.8h0M1435.4 806.1h0M1435.4 812.7h0M1435.5 818.6h0M1456 801.9h0M1456 791.5h0M1456 779.5h0M1456 768.1h0M1456 758.5h0M1456 749.8h0M1456 741h0M1456 727h0M1456 716.6h0M1456 705h0M1456 692.1h0M1456 682.1h0M1456 669.7h0M1456 656.7h0M1456 639.3h0M1456 624.4h0M1456 609.5h0M1456 587.3h0M1456 569h0M1456 546.1h0M1456 524.8h0M1456 509.9h0M1456 489.7h0M1456.5 473.5h0M1457 492.7h0M1457 512.7h0M1457 536.5h0M1457 557.2h0M1457 573.3h0M1457 596.2h0M1457 609.7h0M1457.1 630.3h0M1457.1 643.6h0M1457.1 654.8h0M1457.1 667.5h0M1457.1 684.9h0M1457.2 703.3h0M1457.2 712.9h0M1457.2 726h0M1457.3 738.6h0M1457.3 753h0M1457.3 762.4h0M1457.4 773.6h0M1457.4 783.4h0M1457.4 795.8h0M1457.4 804.3h0M1477.6 792.1h0M1477.6 783h0M1477.6 770.3h0M1477.6 758.4h0M1477.6 748.9h0M1477.6 735.2h0M1477.6 725.2h0M1477.6 709.2h0M1477.6 693.2h0M1477.6 675.6h0M1477.6 658.7h0M1477.6 643.8h0M1477.6 627.9h0M1477.6 611.4h0M1477.6 588.9h0M1477.6 574.5h0M1477.6 550.2h0M1477.6 535.5h0M1477.6 517.9h0M1477.6 499.1h0M1477.6 470.9h0M1477.6 447h0M1478.1 442.5h0M1478.6 465.5h0M1478.6 485.7h0M1478.6 508.4h0M1478.6 531.2h0M1478.6 555.9h0M1478.6 579.5h0M1478.6 600.7h0M1478.6 617.6h0M1478.6 633.8h0M1478.6 647.5h0M1478.7 667.8h0M1478.7 685.3h0M1478.7 702.8h0M1478.7 714.5h0M1478.7 728.1h0M1478.7 743.9h0M1478.7 757.4h0M1478.8 767h0M1478.8 778.8h0M1478.8 793h0M1497.6 780.1h0M1497.6 769h0M1497.6 754.4h0M1497.6 737.9h0M1497.6 726.6h0M1497.6 714.8h0M1497.6 701.9h0M1497.6 687.8h0M1497.6 671.3h0M1497.6 657.8h0M1497.6 642.1h0M1497.6 627.3h0M1497.6 603.3h0M1497.6 580.9h0M1497.6 565.2h0M1497.6 538.1h0M1497.6 521.1h0M1497.6 499.7h0M1497.6 469h0M1497.6 439.5h0M1497.6 409.6h0M1498.1 407.5h0M1498.6 419.5h0M1498.6 448.8h0M1498.6 468.6h0M1498.6 489.2h0M1498.6 511.9h0M1498.6 528.7h0M1498.6 550h0M1498.6 575.6h0M1498.6 598.8h0M1498.6 618.7h0M1498.7 639.3h0M1498.7 657.1h0M1498.7 670.9h0M1498.7 688.9h0M1498.7 704.3h0M1498.7 722.2h0M1498.7 740.8h0M1498.8 754.4h0M1498.8 768.6h0M1498.8 783.6h0M1517 765.5h0M1517 749.2h0M1517 730.7h0M1517 712.3h0M1517 693.7h0M1517 672.8h0M1517 652.7h0M1517 632.2h0M1517 613h0M1517 594.8h0M1517 571.9h0M1517 555.1h0M1517 533.4h0M1517 505.7h0M1517 477.7h0M1517 449.8h0M1517 426.8h0M1517 400.1h0M1517.5 374.5h0M1518 396.6h0M1518 424.2h0M1518 455.2h0M1518 488.9h0M1518 509.6h0M1518 536.5h0M1518 564h0M1518 585h0M1518.1 606.5h0M1518.1 633.2h0M1518.1 647.4h0M1518.1 667h0M1518.1 681.6h0M1518.2 702.4h0M1518.2 723.8h0M1518.2 740.1h0M1518.2 751.8h0M1518.2 767.4h0M1535.6 745.1h0M1535.6 728.5h0M1535.6 709.8h0M1535.6 688.3h0M1535.6 669.2h0M1535.6 650.7h0M1535.6 624.9h0M1535.6 607.2h0M1535.6 582.7h0M1535.6 561.1h0M1535.6 533.5h0M1535.6 514.1h0M1535.6 480.8h0M1535.6 456h0M1535.6 435.4h0M1535.6 410.4h0M1535.6 382.2h0M1535.6 360.2h0M1536.1 334.5h0M1536.6 354.1h0M1536.6 390.1h0M1536.6 418.2h0M1536.6 443.6h0M1536.6 467.5h0M1536.6 499.2h0M1536.6 532.5h0M1536.6 558h0M1536.6 578h0M1536.7 605.4h0M1536.7 626.1h0M1536.7 643.8h0M1536.7 659.8h0M1536.7 683.1h0M1536.7 705.6h0M1536.8 725.2h0M1536.8 742.3h0M1553.5 735.7h0M1553.5 712.2h0M1553.5 694.6h0M1553.5 672.8h0M1553.5 647.9h0M1553.5 621.9h0M1553.5 599.3h0M1553.5 578.4h0M1553.5 553h0M1553.5 533.1h0M1553.5 501.3h0M1553.5 475.9h0M1553.5 441.1h0M1553.5 415.1h0M1553.5 386.2h0M1553.5 358.6h0M1553.5 326.6h0M1553.5 298.4h0M1554 290h0M1554.5 319.2h0M1554.5 349.6h0M1554.5 378.3h0M1554.5 407.1h0M1554.5 438.3h0M1554.5 467.3h0M1554.5 498.8h0M1554.6 529.3h0M1554.6 553.8h0M1554.6 586.1h0M1554.6 615.7h0M1554.6 632.7h0M1554.7 659.7h0M1554.7 686.3h0M1554.7 710.2h0M1554.7 725.4h0M1570.5 714h0M1570.5 699.2h0M1570.5 684h0M1570.5 656h0M1570.5 630.7h0M1570.5 610.1h0M1570.5 591.1h0M1570.5 570.9h0M1570.5 548.6h0M1570.5 516.6h0M1570.5 490.5h0M1570.5 466.9h0M1570.5 428.7h0M1570.5 390.8h0M1570.5 363.8h0M1570.5 320.8h0M1570.5 281.8h0M1571 241h0M1571.5 271.5h0M1571.5 319.2h0M1571.5 362.1h0M1571.5 404.2h0M1571.5 431.4h0M1571.5 467.2h0M1571.6 498.5h0M1571.6 532.2h0M1571.6 559.3h0M1571.6 592.5h0M1571.6 619.1h0M1571.7 640.2h0M1571.7 660.2h0M1571.7 678.3h0M1571.7 700.4h0M1571.7 716.2h0M1587 702.5h0M1587 679.7h0M1587 655.9h0M1587 630.5h0M1587 599.1h0M1587 580.1h0M1587 546.6h0M1587 518h0M1587 486.5h0M1587 451.9h0M1587 412.2h0M1587 380.3h0M1587 346.2h0M1587 298.8h0M1587 269.7h0M1587 226.1h0M1587.5 189h0M1588 202.9h0M1588 248.6h0M1588 294.2h0M1588 343.6h0M1588 377.1h0M1588 423.4h0M1588.1 457.7h0M1588.1 490.1h0M1588.1 529h0M1588.1 550.5h0M1588.1 583.3h0M1588.2 613h0M1588.2 636.9h0M1588.2 668h0M1588.2 690.4h0M1603.3 676.3h0M1603.3 646.5h0M1603.3 624.3h0M1603.3 597.6h0M1603.3 570.1h0M1603.3 539.2h0M1603.3 502h0M1603.3 473.4h0M1603.3 433h0M1603.3 399.6h0M1603.3 362.8h0M1603.3 329.8h0M1603.3 290.1h0M1603.3 237.3h0M1603.3 190.1h0M1603.3 137.1h0M1604.3 154.8h0M1604.3 195.7h0M1604.3 242.9h0M1604.3 289.4h0M1604.3 337.6h0M1604.3 366h0M1604.3 409.1h0M1604.3 453.9h0M1604.3 489.4h0M1604.3 513.6h0M1604.3 541.9h0M1604.4 563.8h0M1604.4 588.3h0M1604.4 624.9h0M1604.4 654.4h0M1604.4 683.5h0M1618.5 644.7h0M1618.5 614.1h0M1618.5 582.2h0M1618.5 548.7h0M1618.5 512.4h0M1618.5 476.5h0M1618.5 437.3h0M1618.5 406.8h0M1618.5 364.8h0M1618.5 326h0M1618.5 278.1h0M1618.5 245.2h0M1618.5 209.1h0M1618.5 175.9h0M1619.5 155.3h0M1619.5 212.8h0M1619.5 266.6h0M1619.5 312h0M1619.5 347.8h0M1619.5 383.5h0M1619.5 420.7h0M1619.5 454.2h0M1619.5 489h0M1619.5 526.8h0M1619.5 568.8h0M1619.5 592h0M1619.5 624h0M1619.5 645.3h0M1619.5 667.3h0M1633 623.7h0M1633 584.7h0M1633 553h0M1633 528.9h0M1633 496.3h0M1633 458.1h0M1633 410.3h0M1633 359.2h0M1633 318h0M1633 276.9h0M1633 242.6h0M1633 192.2h0M1633 152.1h0M1634 140.9h0M1634 202.5h0M1634 239.9h0M1634 272.9h0M1634 324.1h0M1634 360.6h0M1634 408.1h0M1634 440.4h0M1634 468.6h0M1634 512.1h0M1634 552.3h0M1634 593.6h0M1634 630.4h0M1647.5 592.4h0M1647.5 554h0M1647.5 519.1h0M1647.5 472.4h0M1647.5 439.2h0M1647.5 387.6h0M1647.5 339.7h0M1647.5 308.4h0M1647.5 276.2h0M1647.5 225.1h0M1647.5 166.9h0M1648.5 131.6h0M1648.5 182.3h0M1648.5 238.3h0M1648.5 276.3h0M1648.5 331.5h0M1648.5 372.4h0M1648.5 419.1h0M1648.5 463.4h0M1648.5 500.8h0M1648.5 536.1h0M1648.5 578.8h0M1661 550.3h0M1661 511.3h0M1661 477.2h0M1661 447.5h0M1661 394.1h0M1661 345.1h0M1661 290.5h0M1661 247.5h0M1661 194.8h0M1662 177.3h0M1662 222.9h0M1662 258.3h0M1662 300.4h0M1662 345.6h0M1662 393.6h0M1662 445.6h0M1662 496.9h0M1662 525.6h0M1662 571.7h0M1674.5 473.3h0M1674.5 429.6h0M1674.5 391.9h0M1674.5 337.2h0M1674.5 281.2h0M1674.5 226.1h0M1674.5 161.5h0M1675.5 133.8h0M1675.5 197.7h0M1675.5 259.9h0M1675.5 309.1h0M1675.5 345.5h0M1675.5 401.2h0M1675.5 453.3h0M1675.5 489.2h0M1687.5 404.4h0M1687.5 348.6h0M1687.5 300.4h0M1687.5 251.6h0M1687.5 197.4h0M1687.5 153.8h0M1688.5 136h0M1688.5 195.3h0M1688.5 244h0M1688.4 296.4h0M1688.4 331.8h0M1688.4 366.5h0M1688.4 427.2h0M1699 322.8h0M1699 272.5h0M1699 229.3h0M1699 168.5h0M1700.4 143.5h0M1700.5 202.3h0M1700.6 252.2h0M1700.8 291.7h0M1724.5 139.1h0M1724.5 149.1h0M1724.5 155.2h0M1724.5 162.2h0M1724.5 172.1h0M1724.5 178h0M1724.5 187h0M1724.5 194.1h0M1724.5 204.4h0M1724.5 210h0M1724.5 219.5h0M1724.6 226.7h0M1724.6 233h0M1724.6 238.6h0M1724.6 248.2h0M1724.6 256.3h0M1724.6 262.8h0M1724.6 270.5h0M1724.6 280.5h0M1724.6 287.2h0M1724.6 295.5h0M1724.6 301.8h0M1724.6 308.2h0M1724.6 319h0"/>
</g>
<path d="M1203.3 144V1068M1700 144V1068" stroke="#00f" stroke-width="4.17" fill="none"/>
<path d="M250 748H1800" stroke="#008000" stroke-width="4.17" fill="none"/>
<path d="M250 561H1800M250 673H1800" stroke="#ffa500" stroke-width="2.08" fill="none"/>
<g fill="#90ee90"><circle cx="1303.2" cy="763.7" r="4.6"/><circle cx="1303.2" cy="775" r="4.6"/><circle cx="1303.2" cy="784" r="4.6"/><circle cx="1303.2" cy="792.5" r="4.6"/><circle cx="1303.2" cy="801" r="4.6"/><circle cx="1303.2" cy="811" r="4.6"/><circle cx="1303.2" cy="821" r="4.6"/><circle cx="1303.2" cy="832.5" r="4.6"/><circle cx="1303.2" cy="843.7" r="4.6"/><circle cx="1303.2" cy="855" r="4.6"/><circle cx="1303.2" cy="865" r="4.6"/><circle cx="1359.8" cy="579" r="4.6"/><circle cx="1359.8" cy="586" r="4.6"/><circle cx="1359.8" cy="593" r="4.6"/><circle cx="1359.8" cy="600" r="4.6"/><circle cx="1359.8" cy="607" r="4.6"/><circle cx="1359.8" cy="614" r="4.6"/><circle cx="1359.8" cy="621" r="4.6"/><circle cx="1359.8" cy="628" r="4.6"/><circle cx="1359.8" cy="639" r="4.6"/><circle cx="1359.8" cy="648" r="4.6"/><circle cx="1359.8" cy="659" r="4.6"/><circle cx="1359.8" cy="670" r="4.6"/><circle cx="1359.8" cy="678" r="4.6"/><circle cx="1359.8" cy="684" r="4.6"/><circle cx="1359.8" cy="692" r="4.6"/><circle cx="1359.8" cy="699" r="4.6"/><circle cx="1359.8" cy="705" r="4.6"/><circle cx="1359.8" cy="712" r="4.6"/><circle cx="1359.8" cy="719" r="4.6"/><circle cx="1359.8" cy="727" r="4.6"/><circle cx="1359.8" cy="735" r="4.6"/><circle cx="1359.8" cy="743" r="4.6"/><circle cx="1359.8" cy="754" r="4.6"/><circle cx="1359.8" cy="763" r="4.6"/><circle cx="1359.8" cy="773" r="4.6"/><circle cx="1359.8" cy="785" r="4.6"/><circle cx="1359.8" cy="798" r="4.6"/><circle cx="1359.8" cy="811" r="4.6"/><circle cx="1359.8" cy="823" r="4.6"/><circle cx="1359.8" cy="834" r="4.6"/><circle cx="1359.8" cy="845.5" r="4.6"/></g>
<path d="M1302.5 606.5L1307.2 620.9L1322.3 620.9L1310.1 629.8L1314.7 644.2L1302.5 635.3L1290.3 644.2L1294.9 629.8L1282.7 620.9L1297.8 620.9Z" fill="#f00" stroke="#f00" stroke-width="1.39" stroke-linejoin="bevel"/>
<path d="M1581.1 726.9L1583.8 722.5L1587 719.5" stroke="#ff0" stroke-opacity="1.0" stroke-width="15.3" stroke-linecap="round" stroke-linejoin="round" fill="none"/>
<path d="M1587 719.5L1587 732.7M1588.3 712.8L1588.3 733.7M1591.3 734.4L1593.6 721.3L1596.2 711.6L1599.4 705.1L1603.3 701" stroke="#ff0" stroke-opacity="1.0" stroke-width="15.3" stroke-linecap="round" stroke-linejoin="round" fill="none"/>
<path d="M1603.3 701L1603.3 734.6M1604.4 694.7L1604.4 735.1M1605.4 735.6L1607 715.2L1610.1 696L1611.8 689.7L1613.7 685L1615.9 681.2L1618.5 678.5" stroke="#ff0" stroke-opacity="1.0" stroke-width="15.3" stroke-linecap="round" stroke-linejoin="round" fill="none"/>
<path d="M1618.5 678.5L1618.5 735.5M1619.5 671.9L1619.5 735.8M1620 735.7L1620.7 705.1L1623.6 679L1625.4 669.5L1627.5 661.9L1629.9 656.7L1633 653" stroke="#ff0" stroke-opacity="1.0" stroke-width="15.3" stroke-linecap="round" stroke-linejoin="round" fill="none"/>
<path d="M1633 653L1633 737.2M1634 645.8L1634 737M1634.3 735.5L1634.9 686.4L1637.1 660.2L1639.1 646.6L1641.4 636.5L1644.1 629.6L1647.5 625" stroke="#ff0" stroke-opacity="1.0" stroke-width="15.3" stroke-linecap="round" stroke-linejoin="round" fill="none"/>
<path d="M1647.5 625L1647.5 722M1648.5 617.3L1648.5 741.1M1648.9 740.1L1649.8 662L1651.2 624.1L1652.1 616.2L1653.4 610.2L1661 589" stroke="#ff0" stroke-opacity="1.0" stroke-width="15.3" stroke-linecap="round" stroke-linejoin="round" fill="none"/>
<path d="M1661 589L1661 697M1662 581.3L1662 711.9M1662.4 711.8L1663.1 636.7L1664.2 595.8L1665.6 577.1L1668.9 563.1" stroke="#ff0" stroke-opacity="1.0" stroke-width="15.3" stroke-linecap="round" stroke-linejoin="round" fill="none"/>
<path d="M1662 711.9L1662 746.4M1662.1 744.8L1662.4 711.8" stroke="#ff0" stroke-opacity="0.85" stroke-width="15.3" stroke-linecap="round" stroke-linejoin="round" fill="none"/>
<path d="M1674.5 563L1674.5 665M1675.5 564.6L1675.5 695M1675.7 694.7L1677.2 563.9" stroke="#ff0" stroke-opacity="1.0" stroke-width="15.3" stroke-linecap="round" stroke-linejoin="round" fill="none"/>
<path d="M1675.5 695L1675.5 741.8M1675.5 742.5L1675.7 694.7" stroke="#ff0" stroke-opacity="0.8" stroke-width="15.3" stroke-linecap="round" stroke-linejoin="round" fill="none"/>
<path d="M1687.5 564L1687.5 620M1688.4 564.9L1688.3 620.3M1688.7 619.9L1689.1 565.3" stroke="#ff0" stroke-opacity="1.0" stroke-width="15.3" stroke-linecap="round" stroke-linejoin="round" fill="none"/>
<path d="M1688.3 622.7L1688.3 702M1688.3 702L1688.7 623" stroke="#ff0" stroke-opacity="0.75" stroke-width="15.3" stroke-linecap="round" stroke-linejoin="round" fill="none"/>
<path d="M1701.8 563.5L1702.2 642M1702.2 642L1702.5 566" stroke="#ff0" stroke-opacity="0.4" stroke-width="15.3" stroke-linecap="round" stroke-linejoin="round" fill="none"/>
<g fill="#ff0" fill-opacity=".2" stroke="#ff0" stroke-opacity=".2" stroke-width="1.39"><circle cx="1204.6" cy="698.3" r="6.94"/><circle cx="1205.1" cy="691" r="6.94"/><circle cx="1205.6" cy="696.1" r="6.94"/><circle cx="1239.2" cy="698.8" r="6.94"/><circle cx="1239.2" cy="689.4" r="6.94"/><circle cx="1239.2" cy="679.9" r="6.94"/><circle cx="1239.7" cy="671" r="6.94"/><circle cx="1240.2" cy="674.4" r="6.94"/><circle cx="1240.2" cy="684.1" r="6.94"/><circle cx="1240.2" cy="693.9" r="6.94"/><circle cx="1272" cy="697.1" r="6.94"/><circle cx="1272" cy="688" r="6.94"/><circle cx="1272" cy="674.4" r="6.94"/><circle cx="1272" cy="660.7" r="6.94"/><circle cx="1272.5" cy="650" r="6.94"/><circle cx="1273" cy="655.9" r="6.94"/><circle cx="1273" cy="664.7" r="6.94"/><circle cx="1273" cy="673.4" r="6.94"/><circle cx="1273" cy="684.6" r="6.94"/><circle cx="1273" cy="696.6" r="6.94"/><circle cx="1303" cy="695.7" r="6.94"/><circle cx="1303" cy="684.2" r="6.94"/><circle cx="1303" cy="675.4" r="6.94"/><circle cx="1303" cy="665.5" r="6.94"/><circle cx="1303" cy="656" r="6.94"/><circle cx="1303" cy="641.8" r="6.94"/><circle cx="1303" cy="628.9" r="6.94"/><circle cx="1303.5" cy="627" r="6.94"/><circle cx="1304" cy="631.9" r="6.94"/><circle cx="1304" cy="644" r="6.94"/><circle cx="1304" cy="656.8" r="6.94"/><circle cx="1304" cy="669.8" r="6.94"/><circle cx="1304" cy="678.4" r="6.94"/><circle cx="1304" cy="687.3" r="6.94"/><circle cx="1304" cy="699.2" r="6.94"/><circle cx="1332" cy="698.4" r="6.94"/><circle cx="1332" cy="689.6" r="6.94"/><circle cx="1332" cy="679.3" r="6.94"/><circle cx="1332" cy="665.6" r="6.94"/><circle cx="1332" cy="651.4" r="6.94"/><circle cx="1332" cy="641.3" r="6.94"/><circle cx="1332" cy="630.6" r="6.94"/><circle cx="1332" cy="618.1" r="6.94"/><circle cx="1332.5" cy="605" r="6.94"/><circle cx="1333" cy="613.1" r="6.94"/><circle cx="1333" cy="623.9" r="6.94"/><circle cx="1333" cy="635.4" r="6.94"/><circle cx="1333" cy="650.3" r="6.94"/><circle cx="1333" cy="665.7" r="6.94"/><circle cx="1333" cy="674.3" r="6.94"/><circle cx="1333" cy="686.3" r="6.94"/><circle cx="1333.1" cy="699" r="6.94"/><circle cx="1360" cy="697.7" r="6.94"/><circle cx="1360" cy="683.7" r="6.94"/><circle cx="1360" cy="669.3" r="6.94"/><circle cx="1360" cy="659.7" r="6.94"/><circle cx="1360" cy="645" r="6.94"/><circle cx="1360" cy="628.6" r="6.94"/><circle cx="1360" cy="618.4" r="6.94"/><circle cx="1360" cy="605.6" r="6.94"/><circle cx="1360" cy="588.7" r="6.94"/><circle cx="1360.5" cy="580" r="6.94"/><circle cx="1361" cy="594.5" r="6.94"/><circle cx="1361" cy="607.6" r="6.94"/><circle cx="1361" cy="624.9" r="6.94"/><circle cx="1361" cy="635.8" r="6.94"/><circle cx="1361" cy="649.3" r="6.94"/><circle cx="1361" cy="665.4" r="6.94"/><circle cx="1361" cy="675.5" r="6.94"/><circle cx="1361.1" cy="685.7" r="6.94"/><circle cx="1361.1" cy="697.2" r="6.94"/><circle cx="1386" cy="691.9" r="6.94"/><circle cx="1386" cy="683.7" r="6.94"/><circle cx="1386" cy="675" r="6.94"/><circle cx="1386" cy="665.3" r="6.94"/><circle cx="1386" cy="651.6" r="6.94"/><circle cx="1386" cy="638.8" r="6.94"/><circle cx="1386" cy="624.9" r="6.94"/><circle cx="1386" cy="607.1" r="6.94"/><circle cx="1386" cy="595.4" r="6.94"/><circle cx="1386" cy="582.3" r="6.94"/><circle cx="1386" cy="564.8" r="6.94"/><circle cx="1387" cy="575.7" r="6.94"/><circle cx="1387" cy="588.2" r="6.94"/><circle cx="1387" cy="602.7" r="6.94"/><circle cx="1387" cy="615.4" r="6.94"/><circle cx="1387" cy="630.9" r="6.94"/><circle cx="1387" cy="645.8" r="6.94"/><circle cx="1387" cy="656.9" r="6.94"/><circle cx="1387" cy="671" r="6.94"/><circle cx="1387.1" cy="683.4" r="6.94"/><circle cx="1387.1" cy="692.8" r="6.94"/><circle cx="1410.5" cy="704.7" r="6.94"/><circle cx="1410.5" cy="690.7" r="6.94"/><circle cx="1410.5" cy="680.7" r="6.94"/><circle cx="1410.5" cy="669.4" r="6.94"/><circle cx="1410.5" cy="657.7" r="6.94"/><circle cx="1410.5" cy="647.7" r="6.94"/><circle cx="1410.5" cy="630.3" r="6.94"/><circle cx="1410.5" cy="612.9" r="6.94"/><circle cx="1410.5" cy="595.4" r="6.94"/><circle cx="1410.5" cy="584" r="6.94"/><circle cx="1410.5" cy="563.9" r="6.94"/><circle cx="1411.5" cy="575.9" r="6.94"/><circle cx="1411.5" cy="588.9" r="6.94"/><circle cx="1411.5" cy="602.7" r="6.94"/><circle cx="1411.5" cy="614.3" r="6.94"/><circle cx="1411.5" cy="628.2" r="6.94"/><circle cx="1411.5" cy="645.3" r="6.94"/><circle cx="1411.6" cy="661.2" r="6.94"/><circle cx="1411.6" cy="677.6" r="6.94"/><circle cx="1411.6" cy="692.2" r="6.94"/><circle cx="1411.6" cy="702.8" r="6.94"/><circle cx="1434" cy="707.1" r="6.94"/><circle cx="1434" cy="692" r="6.94"/><circle cx="1434" cy="677.3" r="6.94"/><circle cx="1434" cy="660.7" r="6.94"/><circle cx="1434" cy="646.8" r="6.94"/><circle cx="1434" cy="629.9" r="6.94"/><circle cx="1434" cy="613.6" r="6.94"/><circle cx="1434" cy="599.2" r="6.94"/><circle cx="1434" cy="585.2" r="6.94"/><circle cx="1434" cy="566.5" r="6.94"/><circle cx="1435" cy="567.7" r="6.94"/><circle cx="1435" cy="580.7" r="6.94"/><circle cx="1435" cy="593.5" r="6.94"/><circle cx="1435" cy="612.5" r="6.94"/><circle cx="1435" cy="630.1" r="6.94"/><circle cx="1435.1" cy="647.6" r="6.94"/><circle cx="1435.1" cy="664.6" r="6.94"/><circle cx="1435.1" cy="675.2" r="6.94"/><circle cx="1435.1" cy="689.7" r="6.94"/><circle cx="1435.1" cy="701.9" r="6.94"/><circle cx="1456" cy="705" r="6.94"/><circle cx="1456" cy="692.1" r="6.94"/><circle cx="1456" cy="682.1" r="6.94"/><circle cx="1456" cy="669.7" r="6.94"/><circle cx="1456" cy="656.7" r="6.94"/><circle cx="1456" cy="639.3" r="6.94"/><circle cx="1456" cy="624.4" r="6.94"/><circle cx="1456" cy="609.5" r="6.94"/><circle cx="1456" cy="587.3" r="6.94"/><circle cx="1456" cy="569" r="6.94"/><circle cx="1457" cy="573.3" r="6.94"/><circle cx="1457" cy="596.2" r="6.94"/><circle cx="1457" cy="609.7" r="6.94"/><circle cx="1457.1" cy="630.3" r="6.94"/><circle cx="1457.1" cy="643.6" r="6.94"/><circle cx="1457.1" cy="654.8" r="6.94"/><circle cx="1457.1" cy="667.5" r="6.94"/><circle cx="1457.1" cy="684.9" r="6.94"/><circle cx="1457.2" cy="703.3" r="6.94"/><circle cx="1477.6" cy="709.2" r="6.94"/><circle cx="1477.6" cy="693.2" r="6.94"/><circle cx="1477.6" cy="675.6" r="6.94"/><circle cx="1477.6" cy="658.7" r="6.94"/><circle cx="1477.6" cy="643.8" r="6.94"/><circle cx="1477.6" cy="627.9" r="6.94"/><circle cx="1477.6" cy="611.4" r="6.94"/><circle cx="1477.6" cy="588.9" r="6.94"/><circle cx="1477.6" cy="574.5" r="6.94"/><circle cx="1478.6" cy="579.5" r="6.94"/><circle cx="1478.6" cy="600.7" r="6.94"/><circle cx="1478.6" cy="617.6" r="6.94"/><circle cx="1478.6" cy="633.8" r="6.94"/><circle cx="1478.6" cy="647.5" r="6.94"/><circle cx="1478.7" cy="667.8" r="6.94"/><circle cx="1478.7" cy="685.3" r="6.94"/><circle cx="1478.7" cy="702.8" r="6.94"/><circle cx="1497.6" cy="701.9" r="6.94"/><circle cx="1497.6" cy="687.8" r="6.94"/><circle cx="1497.6" cy="671.3" r="6.94"/><circle cx="1497.6" cy="657.8" r="6.94"/><circle cx="1497.6" cy="642.1" r="6.94"/><circle cx="1497.6" cy="627.3" r="6.94"/><circle cx="1497.6" cy="603.3" r="6.94"/><circle cx="1497.6" cy="580.9" r="6.94"/><circle cx="1497.6" cy="565.2" r="6.94"/><circle cx="1498.6" cy="575.6" r="6.94"/><circle cx="1498.6" cy="598.8" r="6.94"/><circle cx="1498.6" cy="618.7" r="6.94"/><circle cx="1498.7" cy="639.3" r="6.94"/><circle cx="1498.7" cy="657.1" r="6.94"/><circle cx="1498.7" cy="670.9" r="6.94"/><circle cx="1498.7" cy="688.9" r="6.94"/><circle cx="1498.7" cy="704.3" r="6.94"/><circle cx="1517" cy="693.7" r="6.94"/><circle cx="1517" cy="672.8" r="6.94"/><circle cx="1517" cy="652.7" r="6.94"/><circle cx="1517" cy="632.2" r="6.94"/><circle cx="1517" cy="613" r="6.94"/><circle cx="1517" cy="594.8" r="6.94"/><circle cx="1517" cy="571.9" r="6.94"/><circle cx="1518" cy="564" r="6.94"/><circle cx="1518" cy="585" r="6.94"/><circle cx="1518.1" cy="606.5" r="6.94"/><circle cx="1518.1" cy="633.2" r="6.94"/><circle cx="1518.1" cy="647.4" r="6.94"/><circle cx="1518.1" cy="667" r="6.94"/><circle cx="1518.1" cy="681.6" r="6.94"/><circle cx="1518.2" cy="702.4" r="6.94"/><circle cx="1535.6" cy="709.8" r="6.94"/><circle cx="1535.6" cy="688.3" r="6.94"/><circle cx="1535.6" cy="669.2" r="6.94"/><circle cx="1535.6" cy="650.7" r="6.94"/><circle cx="1535.6" cy="624.9" r="6.94"/><circle cx="1535.6" cy="607.2" r="6.94"/><circle cx="1535.6" cy="582.7" r="6.94"/><circle cx="1536.6" cy="578" r="6.94"/><circle cx="1536.7" cy="605.4" r="6.94"/><circle cx="1536.7" cy="626.1" r="6.94"/><circle cx="1536.7" cy="643.8" r="6.94"/><circle cx="1536.7" cy="659.8" r="6.94"/><circle cx="1536.7" cy="683.1" r="6.94"/><circle cx="1536.7" cy="705.6" r="6.94"/><circle cx="1553.5" cy="694.6" r="6.94"/><circle cx="1553.5" cy="672.8" r="6.94"/><circle cx="1553.5" cy="647.9" r="6.94"/><circle cx="1553.5" cy="621.9" r="6.94"/><circle cx="1553.5" cy="599.3" r="6.94"/><circle cx="1553.5" cy="578.4" r="6.94"/><circle cx="1554.6" cy="586.1" r="6.94"/><circle cx="1554.6" cy="615.7" r="6.94"/><circle cx="1554.6" cy="632.7" r="6.94"/><circle cx="1554.7" cy="659.7" r="6.94"/><circle cx="1554.7" cy="686.3" r="6.94"/><circle cx="1554.7" cy="710.2" r="6.94"/><circle cx="1570.5" cy="714" r="6.94"/><circle cx="1570.5" cy="699.2" r="6.94"/><circle cx="1570.5" cy="684" r="6.94"/><circle cx="1570.5" cy="656" r="6.94"/><circle cx="1570.5" cy="630.7" r="6.94"/><circle cx="1570.5" cy="610.1" r="6.94"/><circle cx="1570.5" cy="591.1" r="6.94"/><circle cx="1570.5" cy="570.9" r="6.94"/><circle cx="1571.6" cy="592.5" r="6.94"/><circle cx="1571.6" cy="619.1" r="6.94"/><circle cx="1571.7" cy="640.2" r="6.94"/><circle cx="1571.7" cy="660.2" r="6.94"/><circle cx="1571.7" cy="678.3" r="6.94"/><circle cx="1571.7" cy="700.4" r="6.94"/><circle cx="1571.7" cy="716.2" r="6.94"/><circle cx="1587" cy="702.5" r="6.94"/><circle cx="1587" cy="679.7" r="6.94"/><circle cx="1587" cy="655.9" r="6.94"/><circle cx="1587" cy="630.5" r="6.94"/><circle cx="1587" cy="599.1" r="6.94"/><circle cx="1587" cy="580.1" r="6.94"/><circle cx="1588.1" cy="583.3" r="6.94"/><circle cx="1588.2" cy="613" r="6.94"/><circle cx="1588.2" cy="636.9" r="6.94"/><circle cx="1588.2" cy="668" r="6.94"/><circle cx="1588.2" cy="690.4" r="6.94"/><circle cx="1603.3" cy="676.3" r="6.94"/><circle cx="1603.3" cy="646.5" r="6.94"/><circle cx="1603.3" cy="624.3" r="6.94"/><circle cx="1603.3" cy="597.6" r="6.94"/><circle cx="1603.3" cy="570.1" r="6.94"/><circle cx="1604.4" cy="563.8" r="6.94"/><circle cx="1604.4" cy="588.3" r="6.94"/><circle cx="1604.4" cy="624.9" r="6.94"/><circle cx="1604.4" cy="654.4" r="6.94"/><circle cx="1604.4" cy="683.5" r="6.94"/><circle cx="1618.5" cy="644.7" r="6.94"/><circle cx="1618.5" cy="614.1" r="6.94"/><circle cx="1618.5" cy="582.2" r="6.94"/><circle cx="1619.5" cy="568.8" r="6.94"/><circle cx="1619.5" cy="592" r="6.94"/><circle cx="1619.5" cy="624" r="6.94"/><circle cx="1619.5" cy="645.3" r="6.94"/><circle cx="1619.5" cy="667.3" r="6.94"/><circle cx="1633" cy="623.7" r="6.94"/><circle cx="1633" cy="584.7" r="6.94"/><circle cx="1634" cy="593.6" r="6.94"/><circle cx="1634" cy="630.4" r="6.94"/><circle cx="1647.5" cy="592.4" r="6.94"/><circle cx="1648.5" cy="578.8" r="6.94"/><circle cx="1662" cy="571.7" r="6.94"/><circle cx="1204.8" cy="693" r="6.94"/><circle cx="1204.8" cy="700" r="6.94"/><circle cx="1386" cy="566.1" r="6.94"/><circle cx="1387" cy="566.8" r="6.94"/><circle cx="1410.5" cy="564.2" r="6.94"/><circle cx="1411.5" cy="566.3" r="6.94"/><circle cx="1434" cy="565.8" r="6.94"/><circle cx="1435" cy="568" r="6.94"/><circle cx="1456" cy="564.8" r="6.94"/><circle cx="1457" cy="566.8" r="6.94"/><circle cx="1477.6" cy="565.8" r="6.94"/><circle cx="1478.6" cy="568.8" r="6.94"/><circle cx="1497.6" cy="566.4" r="6.94"/><circle cx="1498.6" cy="568.3" r="6.94"/><circle cx="1517" cy="564.6" r="6.94"/><circle cx="1518" cy="566.3" r="6.94"/><circle cx="1535.6" cy="566.2" r="6.94"/><circle cx="1536.6" cy="567.6" r="6.94"/><circle cx="1553.5" cy="566.2" r="6.94"/><circle cx="1554.5" cy="566.2" r="6.94"/><circle cx="1570.5" cy="566.4" r="6.94"/><circle cx="1571.5" cy="567.3" r="6.94"/><circle cx="1587" cy="566.5" r="6.94"/><circle cx="1588" cy="569.5" r="6.94"/><circle cx="1603.3" cy="565.5" r="6.94"/><circle cx="1604.3" cy="566.1" r="6.94"/><circle cx="1618.5" cy="566.7" r="6.94"/><circle cx="1619.5" cy="567.9" r="6.94"/><circle cx="1633" cy="566.6" r="6.94"/><circle cx="1634" cy="567.1" r="6.94"/><circle cx="1647.5" cy="564.6" r="6.94"/><circle cx="1648.5" cy="569.3" r="6.94"/><circle cx="1661" cy="565.1" r="6.94"/><circle cx="1662" cy="566.7" r="6.94"/></g>
<path d="M1302 589V615" stroke="#008000" stroke-width="1.8" fill="none"/>
<path d="M1302.5 618.5V749.5" stroke="#008000" stroke-width="13" stroke-linecap="round" fill="none"/>
</g>
<rect x="250.5" y="144.5" width="1550" height="924" fill="none" stroke="#000" stroke-width="1.15"/>
<g font-family="'DejaVu Sans','Liberation Sans',sans-serif" font-size="15.28" letter-spacing=".3" fill="#000">
<text transform="translate(424.5 958) rotate(-80)">n=1</text>
<text transform="translate(514.5 933) rotate(-80)">n=2</text>
<text transform="translate(599.9 911.5) rotate(-80)">n=3</text>
<text transform="translate(679.7 891.5) rotate(-80)">n=4</text>
<text transform="translate(753.8 870.5) rotate(-80)">n=5</text>
<text transform="translate(822.5 853) rotate(-80)">n=6</text>
<text transform="translate(885.5 833.5) rotate(-80)">n=7</text>
<text transform="translate(944 815) rotate(-80)">n=8</text>
<text transform="translate(998.2 796) rotate(-80)">n=9</text>
<text transform="translate(1048.2 775.5) rotate(-80)">n=10</text>
<text transform="translate(1095.2 756.7) rotate(-80)">n=11</text>
<text transform="translate(1138 736.3) rotate(-80)">n=12</text>
<text transform="translate(1177.9 716.3) rotate(-80)">n=13</text>
<text transform="translate(1216.1 694) rotate(-80)">n=14</text>
<text transform="translate(1250.7 674) rotate(-80)">n=15</text>
<text transform="translate(1283.5 653) rotate(-80)">n=16</text>
<text transform="translate(1314.5 630) rotate(-80)">n=17</text>
<text transform="translate(1343.5 608) rotate(-80)">n=18</text>
<text transform="translate(1371.5 583) rotate(-80)">n=19</text>
<text transform="translate(1397.5 558) rotate(-80)">n=20</text>
<text transform="translate(1422 531) rotate(-80)">n=21</text>
<text transform="translate(1445.5 505) rotate(-80)">n=22</text>
<text transform="translate(1467.5 476.5) rotate(-80)">n=23</text>
<text transform="translate(1489.1 445.5) rotate(-80)">n=24</text>
<text transform="translate(1509.1 410.5) rotate(-80)">n=25</text>
<text transform="translate(1528.5 377.5) rotate(-80)">n=26</text>
<text transform="translate(1547.1 337.5) rotate(-80)">n=27</text>
<text transform="translate(1565 293) rotate(-80)">n=28</text>
<text transform="translate(1582 244) rotate(-80)">n=29</text>
<text transform="translate(1598.5 192) rotate(-80)">n=30</text>
</g>
<path d="M437 1068v16.67M781 1068v16.67M1125 1068v16.67M1469 1068v16.67M250 894.99h-16.67M250 707.24h-16.67M250 519.50h-16.67M250 331.75h-16.67M250 144.00h-16.67" stroke="#000" stroke-width="5.56" fill="none"/>
<path d="M299.40 1068v11.11M368.20 1068v11.11M505.80 1068v11.11M574.60 1068v11.11M643.40 1068v11.11M712.20 1068v11.11M849.80 1068v11.11M918.60 1068v11.11M987.40 1068v11.11M1056.20 1068v11.11M1193.80 1068v11.11M1262.60 1068v11.11M1331.40 1068v11.11M1400.20 1068v11.11M1537.80 1068v11.11M1606.60 1068v11.11M1675.40 1068v11.11M1744.20 1068v11.11M250 1035.80h-11.11M250 988.86h-11.11M250 941.93h-11.11M250 848.05h-11.11M250 801.12h-11.11M250 754.18h-11.11M250 660.31h-11.11M250 613.37h-11.11M250 566.43h-11.11M250 472.56h-11.11M250 425.62h-11.11M250 378.68h-11.11M250 284.81h-11.11M250 237.87h-11.11M250 190.94h-11.11" stroke="#000" stroke-width="5.56" fill="none"/>
<g font-family="'DejaVu Sans','Liberation Sans',sans-serif" fill="#000">
<g font-size="36.11" text-anchor="middle">
<text x="437" y="1116.97">434.0</text>
<text x="781" y="1116.97">434.5</text>
<text x="1125" y="1116.97">435.0</text>
<text x="1469" y="1116.97">435.5</text>
</g><g font-size="36.11" text-anchor="end">
<text x="228.47" y="908.71">200</text>
<text x="228.47" y="720.96">400</text>
<text x="228.47" y="533.22">600</text>
<text x="228.47" y="345.47">800</text>
<text x="228.47" y="157.72">1000</text>
</g>
<text x="1025" y="1172.25" font-size="55.56" text-anchor="middle">Age (Myr)</text>
<text transform="translate(118.5 607) rotate(-90)" font-size="55.56" text-anchor="middle">FM period (days)</text>
</g>
<rect x="263.5" y="157.5" width="534.6" height="290.8" rx="5" ry="5" fill="#fff" fill-opacity=".8" stroke="#ccc" stroke-opacity=".8" stroke-width="1.39"/>
<g fill="none" stroke-linecap="square">
<path d="M273.1 176.75H323.1" stroke="#000" stroke-width="2.08"/>
<circle cx="298.1" cy="176.75" r="1.39" fill="#000" stroke="#000" stroke-width="1.39"/>
<path d="M273.1 214.14H323.1" stroke="#00f" stroke-width="4.17"/>
<path d="M273.1 250.83H323.1" stroke="#008000" stroke-width="4.17"/>
<path d="M273.1 287.53H323.1" stroke="#ffa500" stroke-width="2.08"/>
<circle cx="298.1" cy="324.22" r="3.82" fill="#90ee90" stroke="#90ee90" stroke-width="1.39"/>
<path d="M273.1 360.4H323.1" stroke="#f00" stroke-width="2.08"/>
<path d="M298.1 339.6L302.8 354L317.9 354L305.7 362.9L310.3 377.3L298.1 368.4L285.9 377.3L290.5 362.9L278.3 354L293.4 354Z" fill="#f00" stroke="#f00" stroke-width="1.39" stroke-linejoin="bevel"/>
<circle cx="298.1" cy="413.7" r="6.94" fill="#ff0" fill-opacity=".2" stroke="#ff0" stroke-opacity=".2" stroke-width="1.39"/>
</g>
<g font-family="'DejaVu Sans','Liberation Sans',sans-serif" font-size="25" fill="#000">
<text x="342.5" y="185.5">m2.60_z0.0020_y0.253</text>
<text x="342.5" y="222.89">peak detector horizontal bounds</text>
<text x="342.5" y="259.58">min. P consistent with observations</text>
<text x="342.5" y="296.28">max. P must fall within this span</text>
<text x="342.5" y="332.97">pulse region fit with cubic spline</text>
<text x="342.5" y="368.9">pulses identified</text>
<text x="342.5" y="405.4">intersection w/ P,L,T,R</text>
<text x="342.5" y="433.1">loosely defined</text>
</g>
</svg>
</body></html>
